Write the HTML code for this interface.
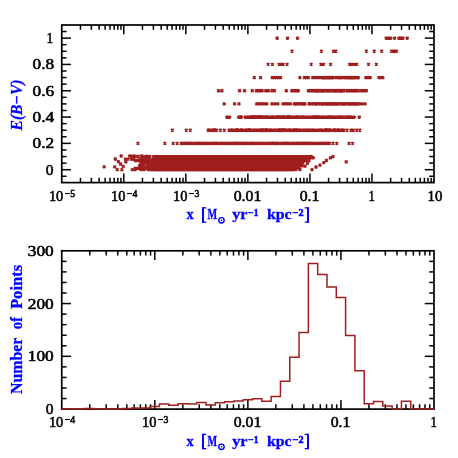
<!DOCTYPE html>
<html><head><meta charset="utf-8"><title>chart</title>
<style>html,body{margin:0;padding:0;background:#fff;}svg{display:block;will-change:transform}</style>
</head><body>
<svg width="458" height="458" viewBox="0 0 458 458">
<rect width="458" height="458" fill="#fff"/>
<rect x="61.75" y="25.0" width="372.25" height="157.6" fill="none" stroke="#000" stroke-width="1.7"/>
<rect x="61.75" y="250.8" width="372.25" height="158.3" fill="none" stroke="#000" stroke-width="1.7"/>
<line x1="80.43" y1="182.60" x2="80.43" y2="177.80" stroke="#000" stroke-width="1.5"/>
<line x1="80.43" y1="25.00" x2="80.43" y2="29.80" stroke="#000" stroke-width="1.5"/>
<line x1="91.35" y1="182.60" x2="91.35" y2="177.80" stroke="#000" stroke-width="1.5"/>
<line x1="91.35" y1="25.00" x2="91.35" y2="29.80" stroke="#000" stroke-width="1.5"/>
<line x1="99.10" y1="182.60" x2="99.10" y2="177.80" stroke="#000" stroke-width="1.5"/>
<line x1="99.10" y1="25.00" x2="99.10" y2="29.80" stroke="#000" stroke-width="1.5"/>
<line x1="105.12" y1="182.60" x2="105.12" y2="177.80" stroke="#000" stroke-width="1.5"/>
<line x1="105.12" y1="25.00" x2="105.12" y2="29.80" stroke="#000" stroke-width="1.5"/>
<line x1="110.03" y1="182.60" x2="110.03" y2="177.80" stroke="#000" stroke-width="1.5"/>
<line x1="110.03" y1="25.00" x2="110.03" y2="29.80" stroke="#000" stroke-width="1.5"/>
<line x1="114.18" y1="182.60" x2="114.18" y2="177.80" stroke="#000" stroke-width="1.5"/>
<line x1="114.18" y1="25.00" x2="114.18" y2="29.80" stroke="#000" stroke-width="1.5"/>
<line x1="117.78" y1="182.60" x2="117.78" y2="177.80" stroke="#000" stroke-width="1.5"/>
<line x1="117.78" y1="25.00" x2="117.78" y2="29.80" stroke="#000" stroke-width="1.5"/>
<line x1="120.95" y1="182.60" x2="120.95" y2="177.80" stroke="#000" stroke-width="1.5"/>
<line x1="120.95" y1="25.00" x2="120.95" y2="29.80" stroke="#000" stroke-width="1.5"/>
<line x1="123.79" y1="182.60" x2="123.79" y2="173.40" stroke="#000" stroke-width="1.5"/>
<line x1="123.79" y1="25.00" x2="123.79" y2="34.20" stroke="#000" stroke-width="1.5"/>
<line x1="142.47" y1="182.60" x2="142.47" y2="177.80" stroke="#000" stroke-width="1.5"/>
<line x1="142.47" y1="25.00" x2="142.47" y2="29.80" stroke="#000" stroke-width="1.5"/>
<line x1="153.39" y1="182.60" x2="153.39" y2="177.80" stroke="#000" stroke-width="1.5"/>
<line x1="153.39" y1="25.00" x2="153.39" y2="29.80" stroke="#000" stroke-width="1.5"/>
<line x1="161.14" y1="182.60" x2="161.14" y2="177.80" stroke="#000" stroke-width="1.5"/>
<line x1="161.14" y1="25.00" x2="161.14" y2="29.80" stroke="#000" stroke-width="1.5"/>
<line x1="167.16" y1="182.60" x2="167.16" y2="177.80" stroke="#000" stroke-width="1.5"/>
<line x1="167.16" y1="25.00" x2="167.16" y2="29.80" stroke="#000" stroke-width="1.5"/>
<line x1="172.07" y1="182.60" x2="172.07" y2="177.80" stroke="#000" stroke-width="1.5"/>
<line x1="172.07" y1="25.00" x2="172.07" y2="29.80" stroke="#000" stroke-width="1.5"/>
<line x1="176.22" y1="182.60" x2="176.22" y2="177.80" stroke="#000" stroke-width="1.5"/>
<line x1="176.22" y1="25.00" x2="176.22" y2="29.80" stroke="#000" stroke-width="1.5"/>
<line x1="179.82" y1="182.60" x2="179.82" y2="177.80" stroke="#000" stroke-width="1.5"/>
<line x1="179.82" y1="25.00" x2="179.82" y2="29.80" stroke="#000" stroke-width="1.5"/>
<line x1="182.99" y1="182.60" x2="182.99" y2="177.80" stroke="#000" stroke-width="1.5"/>
<line x1="182.99" y1="25.00" x2="182.99" y2="29.80" stroke="#000" stroke-width="1.5"/>
<line x1="185.83" y1="182.60" x2="185.83" y2="173.40" stroke="#000" stroke-width="1.5"/>
<line x1="185.83" y1="25.00" x2="185.83" y2="34.20" stroke="#000" stroke-width="1.5"/>
<line x1="204.51" y1="182.60" x2="204.51" y2="177.80" stroke="#000" stroke-width="1.5"/>
<line x1="204.51" y1="25.00" x2="204.51" y2="29.80" stroke="#000" stroke-width="1.5"/>
<line x1="215.43" y1="182.60" x2="215.43" y2="177.80" stroke="#000" stroke-width="1.5"/>
<line x1="215.43" y1="25.00" x2="215.43" y2="29.80" stroke="#000" stroke-width="1.5"/>
<line x1="223.19" y1="182.60" x2="223.19" y2="177.80" stroke="#000" stroke-width="1.5"/>
<line x1="223.19" y1="25.00" x2="223.19" y2="29.80" stroke="#000" stroke-width="1.5"/>
<line x1="229.20" y1="182.60" x2="229.20" y2="177.80" stroke="#000" stroke-width="1.5"/>
<line x1="229.20" y1="25.00" x2="229.20" y2="29.80" stroke="#000" stroke-width="1.5"/>
<line x1="234.11" y1="182.60" x2="234.11" y2="177.80" stroke="#000" stroke-width="1.5"/>
<line x1="234.11" y1="25.00" x2="234.11" y2="29.80" stroke="#000" stroke-width="1.5"/>
<line x1="238.26" y1="182.60" x2="238.26" y2="177.80" stroke="#000" stroke-width="1.5"/>
<line x1="238.26" y1="25.00" x2="238.26" y2="29.80" stroke="#000" stroke-width="1.5"/>
<line x1="241.86" y1="182.60" x2="241.86" y2="177.80" stroke="#000" stroke-width="1.5"/>
<line x1="241.86" y1="25.00" x2="241.86" y2="29.80" stroke="#000" stroke-width="1.5"/>
<line x1="245.04" y1="182.60" x2="245.04" y2="177.80" stroke="#000" stroke-width="1.5"/>
<line x1="245.04" y1="25.00" x2="245.04" y2="29.80" stroke="#000" stroke-width="1.5"/>
<line x1="247.88" y1="182.60" x2="247.88" y2="173.40" stroke="#000" stroke-width="1.5"/>
<line x1="247.88" y1="25.00" x2="247.88" y2="34.20" stroke="#000" stroke-width="1.5"/>
<line x1="266.55" y1="182.60" x2="266.55" y2="177.80" stroke="#000" stroke-width="1.5"/>
<line x1="266.55" y1="25.00" x2="266.55" y2="29.80" stroke="#000" stroke-width="1.5"/>
<line x1="277.48" y1="182.60" x2="277.48" y2="177.80" stroke="#000" stroke-width="1.5"/>
<line x1="277.48" y1="25.00" x2="277.48" y2="29.80" stroke="#000" stroke-width="1.5"/>
<line x1="285.23" y1="182.60" x2="285.23" y2="177.80" stroke="#000" stroke-width="1.5"/>
<line x1="285.23" y1="25.00" x2="285.23" y2="29.80" stroke="#000" stroke-width="1.5"/>
<line x1="291.24" y1="182.60" x2="291.24" y2="177.80" stroke="#000" stroke-width="1.5"/>
<line x1="291.24" y1="25.00" x2="291.24" y2="29.80" stroke="#000" stroke-width="1.5"/>
<line x1="296.15" y1="182.60" x2="296.15" y2="177.80" stroke="#000" stroke-width="1.5"/>
<line x1="296.15" y1="25.00" x2="296.15" y2="29.80" stroke="#000" stroke-width="1.5"/>
<line x1="300.31" y1="182.60" x2="300.31" y2="177.80" stroke="#000" stroke-width="1.5"/>
<line x1="300.31" y1="25.00" x2="300.31" y2="29.80" stroke="#000" stroke-width="1.5"/>
<line x1="303.90" y1="182.60" x2="303.90" y2="177.80" stroke="#000" stroke-width="1.5"/>
<line x1="303.90" y1="25.00" x2="303.90" y2="29.80" stroke="#000" stroke-width="1.5"/>
<line x1="307.08" y1="182.60" x2="307.08" y2="177.80" stroke="#000" stroke-width="1.5"/>
<line x1="307.08" y1="25.00" x2="307.08" y2="29.80" stroke="#000" stroke-width="1.5"/>
<line x1="309.92" y1="182.60" x2="309.92" y2="173.40" stroke="#000" stroke-width="1.5"/>
<line x1="309.92" y1="25.00" x2="309.92" y2="34.20" stroke="#000" stroke-width="1.5"/>
<line x1="328.59" y1="182.60" x2="328.59" y2="177.80" stroke="#000" stroke-width="1.5"/>
<line x1="328.59" y1="25.00" x2="328.59" y2="29.80" stroke="#000" stroke-width="1.5"/>
<line x1="339.52" y1="182.60" x2="339.52" y2="177.80" stroke="#000" stroke-width="1.5"/>
<line x1="339.52" y1="25.00" x2="339.52" y2="29.80" stroke="#000" stroke-width="1.5"/>
<line x1="347.27" y1="182.60" x2="347.27" y2="177.80" stroke="#000" stroke-width="1.5"/>
<line x1="347.27" y1="25.00" x2="347.27" y2="29.80" stroke="#000" stroke-width="1.5"/>
<line x1="353.28" y1="182.60" x2="353.28" y2="177.80" stroke="#000" stroke-width="1.5"/>
<line x1="353.28" y1="25.00" x2="353.28" y2="29.80" stroke="#000" stroke-width="1.5"/>
<line x1="358.19" y1="182.60" x2="358.19" y2="177.80" stroke="#000" stroke-width="1.5"/>
<line x1="358.19" y1="25.00" x2="358.19" y2="29.80" stroke="#000" stroke-width="1.5"/>
<line x1="362.35" y1="182.60" x2="362.35" y2="177.80" stroke="#000" stroke-width="1.5"/>
<line x1="362.35" y1="25.00" x2="362.35" y2="29.80" stroke="#000" stroke-width="1.5"/>
<line x1="365.95" y1="182.60" x2="365.95" y2="177.80" stroke="#000" stroke-width="1.5"/>
<line x1="365.95" y1="25.00" x2="365.95" y2="29.80" stroke="#000" stroke-width="1.5"/>
<line x1="369.12" y1="182.60" x2="369.12" y2="177.80" stroke="#000" stroke-width="1.5"/>
<line x1="369.12" y1="25.00" x2="369.12" y2="29.80" stroke="#000" stroke-width="1.5"/>
<line x1="371.96" y1="182.60" x2="371.96" y2="173.40" stroke="#000" stroke-width="1.5"/>
<line x1="371.96" y1="25.00" x2="371.96" y2="34.20" stroke="#000" stroke-width="1.5"/>
<line x1="390.63" y1="182.60" x2="390.63" y2="177.80" stroke="#000" stroke-width="1.5"/>
<line x1="390.63" y1="25.00" x2="390.63" y2="29.80" stroke="#000" stroke-width="1.5"/>
<line x1="401.56" y1="182.60" x2="401.56" y2="177.80" stroke="#000" stroke-width="1.5"/>
<line x1="401.56" y1="25.00" x2="401.56" y2="29.80" stroke="#000" stroke-width="1.5"/>
<line x1="409.31" y1="182.60" x2="409.31" y2="177.80" stroke="#000" stroke-width="1.5"/>
<line x1="409.31" y1="25.00" x2="409.31" y2="29.80" stroke="#000" stroke-width="1.5"/>
<line x1="415.32" y1="182.60" x2="415.32" y2="177.80" stroke="#000" stroke-width="1.5"/>
<line x1="415.32" y1="25.00" x2="415.32" y2="29.80" stroke="#000" stroke-width="1.5"/>
<line x1="420.24" y1="182.60" x2="420.24" y2="177.80" stroke="#000" stroke-width="1.5"/>
<line x1="420.24" y1="25.00" x2="420.24" y2="29.80" stroke="#000" stroke-width="1.5"/>
<line x1="424.39" y1="182.60" x2="424.39" y2="177.80" stroke="#000" stroke-width="1.5"/>
<line x1="424.39" y1="25.00" x2="424.39" y2="29.80" stroke="#000" stroke-width="1.5"/>
<line x1="427.99" y1="182.60" x2="427.99" y2="177.80" stroke="#000" stroke-width="1.5"/>
<line x1="427.99" y1="25.00" x2="427.99" y2="29.80" stroke="#000" stroke-width="1.5"/>
<line x1="431.16" y1="182.60" x2="431.16" y2="177.80" stroke="#000" stroke-width="1.5"/>
<line x1="431.16" y1="25.00" x2="431.16" y2="29.80" stroke="#000" stroke-width="1.5"/>
<line x1="61.75" y1="176.28" x2="66.55" y2="176.28" stroke="#000" stroke-width="1.5"/>
<line x1="434.00" y1="176.28" x2="429.20" y2="176.28" stroke="#000" stroke-width="1.5"/>
<line x1="61.75" y1="169.70" x2="70.95" y2="169.70" stroke="#000" stroke-width="1.5"/>
<line x1="434.00" y1="169.70" x2="424.80" y2="169.70" stroke="#000" stroke-width="1.5"/>
<line x1="61.75" y1="163.12" x2="66.55" y2="163.12" stroke="#000" stroke-width="1.5"/>
<line x1="434.00" y1="163.12" x2="429.20" y2="163.12" stroke="#000" stroke-width="1.5"/>
<line x1="61.75" y1="156.54" x2="66.55" y2="156.54" stroke="#000" stroke-width="1.5"/>
<line x1="434.00" y1="156.54" x2="429.20" y2="156.54" stroke="#000" stroke-width="1.5"/>
<line x1="61.75" y1="149.96" x2="66.55" y2="149.96" stroke="#000" stroke-width="1.5"/>
<line x1="434.00" y1="149.96" x2="429.20" y2="149.96" stroke="#000" stroke-width="1.5"/>
<line x1="61.75" y1="143.38" x2="70.95" y2="143.38" stroke="#000" stroke-width="1.5"/>
<line x1="434.00" y1="143.38" x2="424.80" y2="143.38" stroke="#000" stroke-width="1.5"/>
<line x1="61.75" y1="136.80" x2="66.55" y2="136.80" stroke="#000" stroke-width="1.5"/>
<line x1="434.00" y1="136.80" x2="429.20" y2="136.80" stroke="#000" stroke-width="1.5"/>
<line x1="61.75" y1="130.22" x2="66.55" y2="130.22" stroke="#000" stroke-width="1.5"/>
<line x1="434.00" y1="130.22" x2="429.20" y2="130.22" stroke="#000" stroke-width="1.5"/>
<line x1="61.75" y1="123.64" x2="66.55" y2="123.64" stroke="#000" stroke-width="1.5"/>
<line x1="434.00" y1="123.64" x2="429.20" y2="123.64" stroke="#000" stroke-width="1.5"/>
<line x1="61.75" y1="117.06" x2="70.95" y2="117.06" stroke="#000" stroke-width="1.5"/>
<line x1="434.00" y1="117.06" x2="424.80" y2="117.06" stroke="#000" stroke-width="1.5"/>
<line x1="61.75" y1="110.48" x2="66.55" y2="110.48" stroke="#000" stroke-width="1.5"/>
<line x1="434.00" y1="110.48" x2="429.20" y2="110.48" stroke="#000" stroke-width="1.5"/>
<line x1="61.75" y1="103.90" x2="66.55" y2="103.90" stroke="#000" stroke-width="1.5"/>
<line x1="434.00" y1="103.90" x2="429.20" y2="103.90" stroke="#000" stroke-width="1.5"/>
<line x1="61.75" y1="97.32" x2="66.55" y2="97.32" stroke="#000" stroke-width="1.5"/>
<line x1="434.00" y1="97.32" x2="429.20" y2="97.32" stroke="#000" stroke-width="1.5"/>
<line x1="61.75" y1="90.74" x2="70.95" y2="90.74" stroke="#000" stroke-width="1.5"/>
<line x1="434.00" y1="90.74" x2="424.80" y2="90.74" stroke="#000" stroke-width="1.5"/>
<line x1="61.75" y1="84.16" x2="66.55" y2="84.16" stroke="#000" stroke-width="1.5"/>
<line x1="434.00" y1="84.16" x2="429.20" y2="84.16" stroke="#000" stroke-width="1.5"/>
<line x1="61.75" y1="77.58" x2="66.55" y2="77.58" stroke="#000" stroke-width="1.5"/>
<line x1="434.00" y1="77.58" x2="429.20" y2="77.58" stroke="#000" stroke-width="1.5"/>
<line x1="61.75" y1="71.00" x2="66.55" y2="71.00" stroke="#000" stroke-width="1.5"/>
<line x1="434.00" y1="71.00" x2="429.20" y2="71.00" stroke="#000" stroke-width="1.5"/>
<line x1="61.75" y1="64.42" x2="70.95" y2="64.42" stroke="#000" stroke-width="1.5"/>
<line x1="434.00" y1="64.42" x2="424.80" y2="64.42" stroke="#000" stroke-width="1.5"/>
<line x1="61.75" y1="57.84" x2="66.55" y2="57.84" stroke="#000" stroke-width="1.5"/>
<line x1="434.00" y1="57.84" x2="429.20" y2="57.84" stroke="#000" stroke-width="1.5"/>
<line x1="61.75" y1="51.26" x2="66.55" y2="51.26" stroke="#000" stroke-width="1.5"/>
<line x1="434.00" y1="51.26" x2="429.20" y2="51.26" stroke="#000" stroke-width="1.5"/>
<line x1="61.75" y1="44.68" x2="66.55" y2="44.68" stroke="#000" stroke-width="1.5"/>
<line x1="434.00" y1="44.68" x2="429.20" y2="44.68" stroke="#000" stroke-width="1.5"/>
<line x1="61.75" y1="38.10" x2="70.95" y2="38.10" stroke="#000" stroke-width="1.5"/>
<line x1="434.00" y1="38.10" x2="424.80" y2="38.10" stroke="#000" stroke-width="1.5"/>
<line x1="61.75" y1="31.52" x2="66.55" y2="31.52" stroke="#000" stroke-width="1.5"/>
<line x1="434.00" y1="31.52" x2="429.20" y2="31.52" stroke="#000" stroke-width="1.5"/>
<line x1="89.76" y1="409.10" x2="89.76" y2="404.30" stroke="#000" stroke-width="1.5"/>
<line x1="89.76" y1="250.80" x2="89.76" y2="255.60" stroke="#000" stroke-width="1.5"/>
<line x1="106.15" y1="409.10" x2="106.15" y2="404.30" stroke="#000" stroke-width="1.5"/>
<line x1="106.15" y1="250.80" x2="106.15" y2="255.60" stroke="#000" stroke-width="1.5"/>
<line x1="117.78" y1="409.10" x2="117.78" y2="404.30" stroke="#000" stroke-width="1.5"/>
<line x1="117.78" y1="250.80" x2="117.78" y2="255.60" stroke="#000" stroke-width="1.5"/>
<line x1="126.80" y1="409.10" x2="126.80" y2="404.30" stroke="#000" stroke-width="1.5"/>
<line x1="126.80" y1="250.80" x2="126.80" y2="255.60" stroke="#000" stroke-width="1.5"/>
<line x1="134.17" y1="409.10" x2="134.17" y2="404.30" stroke="#000" stroke-width="1.5"/>
<line x1="134.17" y1="250.80" x2="134.17" y2="255.60" stroke="#000" stroke-width="1.5"/>
<line x1="140.40" y1="409.10" x2="140.40" y2="404.30" stroke="#000" stroke-width="1.5"/>
<line x1="140.40" y1="250.80" x2="140.40" y2="255.60" stroke="#000" stroke-width="1.5"/>
<line x1="145.79" y1="409.10" x2="145.79" y2="404.30" stroke="#000" stroke-width="1.5"/>
<line x1="145.79" y1="250.80" x2="145.79" y2="255.60" stroke="#000" stroke-width="1.5"/>
<line x1="150.55" y1="409.10" x2="150.55" y2="404.30" stroke="#000" stroke-width="1.5"/>
<line x1="150.55" y1="250.80" x2="150.55" y2="255.60" stroke="#000" stroke-width="1.5"/>
<line x1="154.81" y1="409.10" x2="154.81" y2="399.90" stroke="#000" stroke-width="1.5"/>
<line x1="154.81" y1="250.80" x2="154.81" y2="260.00" stroke="#000" stroke-width="1.5"/>
<line x1="182.83" y1="409.10" x2="182.83" y2="404.30" stroke="#000" stroke-width="1.5"/>
<line x1="182.83" y1="250.80" x2="182.83" y2="255.60" stroke="#000" stroke-width="1.5"/>
<line x1="199.21" y1="409.10" x2="199.21" y2="404.30" stroke="#000" stroke-width="1.5"/>
<line x1="199.21" y1="250.80" x2="199.21" y2="255.60" stroke="#000" stroke-width="1.5"/>
<line x1="210.84" y1="409.10" x2="210.84" y2="404.30" stroke="#000" stroke-width="1.5"/>
<line x1="210.84" y1="250.80" x2="210.84" y2="255.60" stroke="#000" stroke-width="1.5"/>
<line x1="219.86" y1="409.10" x2="219.86" y2="404.30" stroke="#000" stroke-width="1.5"/>
<line x1="219.86" y1="250.80" x2="219.86" y2="255.60" stroke="#000" stroke-width="1.5"/>
<line x1="227.23" y1="409.10" x2="227.23" y2="404.30" stroke="#000" stroke-width="1.5"/>
<line x1="227.23" y1="250.80" x2="227.23" y2="255.60" stroke="#000" stroke-width="1.5"/>
<line x1="233.46" y1="409.10" x2="233.46" y2="404.30" stroke="#000" stroke-width="1.5"/>
<line x1="233.46" y1="250.80" x2="233.46" y2="255.60" stroke="#000" stroke-width="1.5"/>
<line x1="238.86" y1="409.10" x2="238.86" y2="404.30" stroke="#000" stroke-width="1.5"/>
<line x1="238.86" y1="250.80" x2="238.86" y2="255.60" stroke="#000" stroke-width="1.5"/>
<line x1="243.62" y1="409.10" x2="243.62" y2="404.30" stroke="#000" stroke-width="1.5"/>
<line x1="243.62" y1="250.80" x2="243.62" y2="255.60" stroke="#000" stroke-width="1.5"/>
<line x1="247.88" y1="409.10" x2="247.88" y2="399.90" stroke="#000" stroke-width="1.5"/>
<line x1="247.88" y1="250.80" x2="247.88" y2="260.00" stroke="#000" stroke-width="1.5"/>
<line x1="275.89" y1="409.10" x2="275.89" y2="404.30" stroke="#000" stroke-width="1.5"/>
<line x1="275.89" y1="250.80" x2="275.89" y2="255.60" stroke="#000" stroke-width="1.5"/>
<line x1="292.28" y1="409.10" x2="292.28" y2="404.30" stroke="#000" stroke-width="1.5"/>
<line x1="292.28" y1="250.80" x2="292.28" y2="255.60" stroke="#000" stroke-width="1.5"/>
<line x1="303.90" y1="409.10" x2="303.90" y2="404.30" stroke="#000" stroke-width="1.5"/>
<line x1="303.90" y1="250.80" x2="303.90" y2="255.60" stroke="#000" stroke-width="1.5"/>
<line x1="312.92" y1="409.10" x2="312.92" y2="404.30" stroke="#000" stroke-width="1.5"/>
<line x1="312.92" y1="250.80" x2="312.92" y2="255.60" stroke="#000" stroke-width="1.5"/>
<line x1="320.29" y1="409.10" x2="320.29" y2="404.30" stroke="#000" stroke-width="1.5"/>
<line x1="320.29" y1="250.80" x2="320.29" y2="255.60" stroke="#000" stroke-width="1.5"/>
<line x1="326.52" y1="409.10" x2="326.52" y2="404.30" stroke="#000" stroke-width="1.5"/>
<line x1="326.52" y1="250.80" x2="326.52" y2="255.60" stroke="#000" stroke-width="1.5"/>
<line x1="331.92" y1="409.10" x2="331.92" y2="404.30" stroke="#000" stroke-width="1.5"/>
<line x1="331.92" y1="250.80" x2="331.92" y2="255.60" stroke="#000" stroke-width="1.5"/>
<line x1="336.68" y1="409.10" x2="336.68" y2="404.30" stroke="#000" stroke-width="1.5"/>
<line x1="336.68" y1="250.80" x2="336.68" y2="255.60" stroke="#000" stroke-width="1.5"/>
<line x1="340.94" y1="409.10" x2="340.94" y2="399.90" stroke="#000" stroke-width="1.5"/>
<line x1="340.94" y1="250.80" x2="340.94" y2="260.00" stroke="#000" stroke-width="1.5"/>
<line x1="368.95" y1="409.10" x2="368.95" y2="404.30" stroke="#000" stroke-width="1.5"/>
<line x1="368.95" y1="250.80" x2="368.95" y2="255.60" stroke="#000" stroke-width="1.5"/>
<line x1="385.34" y1="409.10" x2="385.34" y2="404.30" stroke="#000" stroke-width="1.5"/>
<line x1="385.34" y1="250.80" x2="385.34" y2="255.60" stroke="#000" stroke-width="1.5"/>
<line x1="396.97" y1="409.10" x2="396.97" y2="404.30" stroke="#000" stroke-width="1.5"/>
<line x1="396.97" y1="250.80" x2="396.97" y2="255.60" stroke="#000" stroke-width="1.5"/>
<line x1="405.99" y1="409.10" x2="405.99" y2="404.30" stroke="#000" stroke-width="1.5"/>
<line x1="405.99" y1="250.80" x2="405.99" y2="255.60" stroke="#000" stroke-width="1.5"/>
<line x1="413.35" y1="409.10" x2="413.35" y2="404.30" stroke="#000" stroke-width="1.5"/>
<line x1="413.35" y1="250.80" x2="413.35" y2="255.60" stroke="#000" stroke-width="1.5"/>
<line x1="419.58" y1="409.10" x2="419.58" y2="404.30" stroke="#000" stroke-width="1.5"/>
<line x1="419.58" y1="250.80" x2="419.58" y2="255.60" stroke="#000" stroke-width="1.5"/>
<line x1="424.98" y1="409.10" x2="424.98" y2="404.30" stroke="#000" stroke-width="1.5"/>
<line x1="424.98" y1="250.80" x2="424.98" y2="255.60" stroke="#000" stroke-width="1.5"/>
<line x1="429.74" y1="409.10" x2="429.74" y2="404.30" stroke="#000" stroke-width="1.5"/>
<line x1="429.74" y1="250.80" x2="429.74" y2="255.60" stroke="#000" stroke-width="1.5"/>
<line x1="61.75" y1="398.55" x2="66.55" y2="398.55" stroke="#000" stroke-width="1.5"/>
<line x1="434.00" y1="398.55" x2="429.20" y2="398.55" stroke="#000" stroke-width="1.5"/>
<line x1="61.75" y1="387.99" x2="66.55" y2="387.99" stroke="#000" stroke-width="1.5"/>
<line x1="434.00" y1="387.99" x2="429.20" y2="387.99" stroke="#000" stroke-width="1.5"/>
<line x1="61.75" y1="377.44" x2="66.55" y2="377.44" stroke="#000" stroke-width="1.5"/>
<line x1="434.00" y1="377.44" x2="429.20" y2="377.44" stroke="#000" stroke-width="1.5"/>
<line x1="61.75" y1="366.89" x2="66.55" y2="366.89" stroke="#000" stroke-width="1.5"/>
<line x1="434.00" y1="366.89" x2="429.20" y2="366.89" stroke="#000" stroke-width="1.5"/>
<line x1="61.75" y1="356.33" x2="70.95" y2="356.33" stroke="#000" stroke-width="1.5"/>
<line x1="434.00" y1="356.33" x2="424.80" y2="356.33" stroke="#000" stroke-width="1.5"/>
<line x1="61.75" y1="345.78" x2="66.55" y2="345.78" stroke="#000" stroke-width="1.5"/>
<line x1="434.00" y1="345.78" x2="429.20" y2="345.78" stroke="#000" stroke-width="1.5"/>
<line x1="61.75" y1="335.23" x2="66.55" y2="335.23" stroke="#000" stroke-width="1.5"/>
<line x1="434.00" y1="335.23" x2="429.20" y2="335.23" stroke="#000" stroke-width="1.5"/>
<line x1="61.75" y1="324.67" x2="66.55" y2="324.67" stroke="#000" stroke-width="1.5"/>
<line x1="434.00" y1="324.67" x2="429.20" y2="324.67" stroke="#000" stroke-width="1.5"/>
<line x1="61.75" y1="314.12" x2="66.55" y2="314.12" stroke="#000" stroke-width="1.5"/>
<line x1="434.00" y1="314.12" x2="429.20" y2="314.12" stroke="#000" stroke-width="1.5"/>
<line x1="61.75" y1="303.57" x2="70.95" y2="303.57" stroke="#000" stroke-width="1.5"/>
<line x1="434.00" y1="303.57" x2="424.80" y2="303.57" stroke="#000" stroke-width="1.5"/>
<line x1="61.75" y1="293.01" x2="66.55" y2="293.01" stroke="#000" stroke-width="1.5"/>
<line x1="434.00" y1="293.01" x2="429.20" y2="293.01" stroke="#000" stroke-width="1.5"/>
<line x1="61.75" y1="282.46" x2="66.55" y2="282.46" stroke="#000" stroke-width="1.5"/>
<line x1="434.00" y1="282.46" x2="429.20" y2="282.46" stroke="#000" stroke-width="1.5"/>
<line x1="61.75" y1="271.91" x2="66.55" y2="271.91" stroke="#000" stroke-width="1.5"/>
<line x1="434.00" y1="271.91" x2="429.20" y2="271.91" stroke="#000" stroke-width="1.5"/>
<line x1="61.75" y1="261.35" x2="66.55" y2="261.35" stroke="#000" stroke-width="1.5"/>
<line x1="434.00" y1="261.35" x2="429.20" y2="261.35" stroke="#000" stroke-width="1.5"/>
<rect x="321.70" y="76.38" width="12.40" height="2.4" fill="#a01e1e"/>
<rect x="335.40" y="76.38" width="23.80" height="2.4" fill="#a01e1e"/>
<rect x="313.50" y="89.54" width="31.10" height="2.4" fill="#a01e1e"/>
<rect x="349.80" y="89.54" width="8.40" height="2.4" fill="#a01e1e"/>
<rect x="308.10" y="102.70" width="49.50" height="2.4" fill="#a01e1e"/>
<rect x="293.40" y="102.70" width="12.40" height="2.4" fill="#a01e1e"/>
<rect x="244.30" y="115.86" width="25.20" height="2.4" fill="#a01e1e"/>
<rect x="270.70" y="115.86" width="81.60" height="2.4" fill="#a01e1e"/>
<rect x="228.10" y="129.02" width="116.60" height="2.4" fill="#a01e1e"/>
<rect x="207.20" y="129.02" width="10.20" height="2.4" fill="#a01e1e"/>
<rect x="180.20" y="142.18" width="150.20" height="2.4" fill="#a01e1e"/>
<polygon points="153,154.94 309,154.94 292,171.30 153,171.30" fill="#a01e1e"/>
<rect x="150.22" y="168.20" width="142.69" height="3.0" fill="#a01e1e"/>
<rect x="147.83" y="166.88" width="148.00" height="3.0" fill="#a01e1e"/>
<rect x="148.67" y="165.57" width="147.81" height="3.0" fill="#a01e1e"/>
<rect x="151.68" y="164.25" width="147.18" height="3.0" fill="#a01e1e"/>
<rect x="150.67" y="162.94" width="148.98" height="3.0" fill="#a01e1e"/>
<rect x="151.21" y="161.62" width="151.31" height="3.0" fill="#a01e1e"/>
<rect x="151.29" y="160.30" width="151.60" height="3.0" fill="#a01e1e"/>
<rect x="147.66" y="158.99" width="157.70" height="3.0" fill="#a01e1e"/>
<rect x="151.09" y="157.67" width="156.52" height="3.0" fill="#a01e1e"/>
<rect x="152.11" y="156.36" width="157.99" height="3.0" fill="#a01e1e"/>
<rect x="152.18" y="155.04" width="158.86" height="3.0" fill="#a01e1e"/>
<path d="M275.80 36.80L278.40 39.40M275.80 39.40L278.40 36.80M286.20 36.80L288.80 39.40M286.20 39.40L288.80 36.80M296.20 36.80L298.80 39.40M296.20 39.40L298.80 36.80M384.90 36.80L387.50 39.40M384.90 39.40L387.50 36.80M387.10 36.80L389.70 39.40M387.10 39.40L389.70 36.80M389.30 36.80L391.90 39.40M389.30 39.40L391.90 36.80M393.20 36.80L395.80 39.40M393.20 39.40L395.80 36.80M397.60 36.80L400.20 39.40M397.60 39.40L400.20 36.80M399.60 36.80L402.20 39.40M399.60 39.40L402.20 36.80M401.60 36.80L404.20 39.40M401.60 39.40L404.20 36.80M405.90 36.80L408.50 39.40M405.90 39.40L408.50 36.80M290.70 49.96L293.30 52.56M290.70 52.56L293.30 49.96M320.10 49.96L322.70 52.56M320.10 52.56L322.70 49.96M332.10 49.96L334.70 52.56M332.10 52.56L334.70 49.96M334.50 49.96L337.10 52.56M334.50 52.56L337.10 49.96M365.10 49.96L367.70 52.56M365.10 52.56L367.70 49.96M372.90 49.96L375.50 52.56M372.90 52.56L375.50 49.96M380.30 49.96L382.90 52.56M380.30 52.56L382.90 49.96M390.20 49.96L392.80 52.56M390.20 52.56L392.80 49.96M392.80 49.96L395.40 52.56M392.80 52.56L395.40 49.96M395.20 49.96L397.80 52.56M395.20 52.56L397.80 49.96M266.80 63.12L269.40 65.72M266.80 65.72L269.40 63.12M271.10 63.12L273.70 65.72M271.10 65.72L273.70 63.12M277.80 63.12L280.40 65.72M277.80 65.72L280.40 63.12M279.90 63.12L282.50 65.72M279.90 65.72L282.50 63.12M281.90 63.12L284.50 65.72M281.90 65.72L284.50 63.12M285.80 63.12L288.40 65.72M285.80 65.72L288.40 63.12M309.90 63.12L312.50 65.72M309.90 65.72L312.50 63.12M319.60 63.12L322.20 65.72M319.60 65.72L322.20 63.12M322.20 63.12L324.80 65.72M322.20 65.72L324.80 63.12M329.30 63.12L331.90 65.72M329.30 65.72L331.90 63.12M348.30 63.12L350.90 65.72M348.30 65.72L350.90 63.12M350.40 63.12L353.00 65.72M350.40 65.72L353.00 63.12M353.30 63.12L355.90 65.72M353.30 65.72L355.90 63.12M355.40 63.12L358.00 65.72M355.40 65.72L358.00 63.12M367.20 63.12L369.80 65.72M367.20 65.72L369.80 63.12M375.00 63.12L377.60 65.72M375.00 65.72L377.60 63.12M321.30 76.28L323.90 78.88M321.30 78.88L323.90 76.28M322.29 76.28L324.89 78.88M322.29 78.88L324.89 76.28M323.13 76.28L325.73 78.88M323.13 78.88L325.73 76.28M324.41 76.28L327.01 78.88M324.41 78.88L327.01 76.28M325.18 76.28L327.78 78.88M325.18 78.88L327.78 76.28M326.36 76.28L328.96 78.88M326.36 78.88L328.96 76.28M327.39 76.28L329.99 78.88M327.39 78.88L329.99 76.28M328.14 76.28L330.74 78.88M328.14 78.88L330.74 76.28M329.30 76.28L331.90 78.88M329.30 78.88L331.90 76.28M330.03 76.28L332.63 78.88M330.03 78.88L332.63 76.28M331.12 76.28L333.72 78.88M331.12 78.88L333.72 76.28M331.89 76.28L334.49 78.88M331.89 78.88L334.49 76.28M331.90 76.28L334.50 78.88M331.90 78.88L334.50 76.28M335.00 76.28L337.60 78.88M335.00 78.88L337.60 76.28M336.08 76.28L338.68 78.88M336.08 78.88L338.68 76.28M337.53 76.28L340.13 78.88M337.53 78.88L340.13 76.28M338.34 76.28L340.94 78.88M338.34 78.88L340.94 76.28M339.24 76.28L341.84 78.88M339.24 78.88L341.84 76.28M340.50 76.28L343.10 78.88M340.50 78.88L343.10 76.28M342.06 76.28L344.66 78.88M342.06 78.88L344.66 76.28M343.28 76.28L345.88 78.88M343.28 78.88L345.88 76.28M344.33 76.28L346.93 78.88M344.33 78.88L346.93 76.28M345.91 76.28L348.51 78.88M345.91 78.88L348.51 76.28M346.65 76.28L349.25 78.88M346.65 78.88L349.25 76.28M348.13 76.28L350.73 78.88M348.13 78.88L350.73 76.28M349.09 76.28L351.69 78.88M349.09 78.88L351.69 76.28M349.92 76.28L352.52 78.88M349.92 78.88L352.52 76.28M350.72 76.28L353.32 78.88M350.72 78.88L353.32 76.28M351.70 76.28L354.30 78.88M351.70 78.88L354.30 76.28M353.13 76.28L355.73 78.88M353.13 78.88L355.73 76.28M354.00 76.28L356.60 78.88M354.00 78.88L356.60 76.28M355.22 76.28L357.82 78.88M355.22 78.88L357.82 76.28M356.50 76.28L359.10 78.88M356.50 78.88L359.10 76.28M357.00 76.28L359.60 78.88M357.00 78.88L359.60 76.28M253.00 76.28L255.60 78.88M253.00 78.88L255.60 76.28M259.30 76.28L261.90 78.88M259.30 78.88L261.90 76.28M298.60 76.28L301.20 78.88M298.60 78.88L301.20 76.28M303.10 76.28L305.70 78.88M303.10 78.88L305.70 76.28M305.10 76.28L307.70 78.88M305.10 78.88L307.70 76.28M307.00 76.28L309.60 78.88M307.00 78.88L309.60 76.28M364.50 76.28L367.10 78.88M364.50 78.88L367.10 76.28M366.90 76.28L369.50 78.88M366.90 78.88L369.50 76.28M369.00 76.28L371.60 78.88M369.00 78.88L371.60 76.28M377.60 76.28L380.20 78.88M377.60 78.88L380.20 76.28M379.90 76.28L382.50 78.88M379.90 78.88L382.50 76.28M381.60 76.28L384.20 78.88M381.60 78.88L384.20 76.28M270.90 76.28L273.50 78.88M270.90 78.88L273.50 76.28M273.00 76.28L275.60 78.88M273.00 78.88L275.60 76.28M275.10 76.28L277.70 78.88M275.10 78.88L277.70 76.28M277.20 76.28L279.80 78.88M277.20 78.88L279.80 76.28M279.30 76.28L281.90 78.88M279.30 78.88L281.90 76.28M311.40 76.28L314.00 78.88M311.40 78.88L314.00 76.28M313.00 76.28L315.60 78.88M313.00 78.88L315.60 76.28M314.60 76.28L317.20 78.88M314.60 78.88L317.20 76.28M316.20 76.28L318.80 78.88M316.20 78.88L318.80 76.28M317.80 76.28L320.40 78.88M317.80 78.88L320.40 76.28M319.40 76.28L322.00 78.88M319.40 78.88L322.00 76.28M313.10 89.44L315.70 92.04M313.10 92.04L315.70 89.44M314.29 89.44L316.89 92.04M314.29 92.04L316.89 89.44M315.05 89.44L317.65 92.04M315.05 92.04L317.65 89.44M315.80 89.44L318.40 92.04M315.80 92.04L318.40 89.44M316.69 89.44L319.29 92.04M316.69 92.04L319.29 89.44M318.00 89.44L320.60 92.04M318.00 92.04L320.60 89.44M319.09 89.44L321.69 92.04M319.09 92.04L321.69 89.44M320.07 89.44L322.67 92.04M320.07 92.04L322.67 89.44M321.30 89.44L323.90 92.04M321.30 92.04L323.90 89.44M322.40 89.44L325.00 92.04M322.40 92.04L325.00 89.44M323.37 89.44L325.97 92.04M323.37 92.04L325.97 89.44M324.79 89.44L327.39 92.04M324.79 92.04L327.39 89.44M326.12 89.44L328.72 92.04M326.12 92.04L328.72 89.44M327.04 89.44L329.64 92.04M327.04 92.04L329.64 89.44M328.25 89.44L330.85 92.04M328.25 92.04L330.85 89.44M329.43 89.44L332.03 92.04M329.43 92.04L332.03 89.44M330.91 89.44L333.51 92.04M330.91 92.04L333.51 89.44M332.27 89.44L334.87 92.04M332.27 92.04L334.87 89.44M333.23 89.44L335.83 92.04M333.23 92.04L335.83 89.44M334.81 89.44L337.41 92.04M334.81 92.04L337.41 89.44M335.62 89.44L338.22 92.04M335.62 92.04L338.22 89.44M336.69 89.44L339.29 92.04M336.69 92.04L339.29 89.44M338.08 89.44L340.68 92.04M338.08 92.04L340.68 89.44M338.91 89.44L341.51 92.04M338.91 92.04L341.51 89.44M340.05 89.44L342.65 92.04M340.05 92.04L342.65 89.44M340.79 89.44L343.39 92.04M340.79 92.04L343.39 89.44M342.09 89.44L344.69 92.04M342.09 92.04L344.69 89.44M342.40 89.44L345.00 92.04M342.40 92.04L345.00 89.44M349.40 89.44L352.00 92.04M349.40 92.04L352.00 89.44M350.62 89.44L353.22 92.04M350.62 92.04L353.22 89.44M352.10 89.44L354.70 92.04M352.10 92.04L354.70 89.44M353.09 89.44L355.69 92.04M353.09 92.04L355.69 89.44M354.41 89.44L357.01 92.04M354.41 92.04L357.01 89.44M355.65 89.44L358.25 92.04M355.65 92.04L358.25 89.44M356.00 89.44L358.60 92.04M356.00 92.04L358.60 89.44M217.20 89.44L219.80 92.04M217.20 92.04L219.80 89.44M220.60 89.44L223.20 92.04M220.60 92.04L223.20 89.44M238.30 89.44L240.90 92.04M238.30 92.04L240.90 89.44M243.20 89.44L245.80 92.04M243.20 92.04L245.80 89.44M251.00 89.44L253.60 92.04M251.00 92.04L253.60 89.44M264.40 89.44L267.00 92.04M264.40 92.04L267.00 89.44M267.10 89.44L269.70 92.04M267.10 92.04L269.70 89.44M270.70 89.44L273.30 92.04M270.70 92.04L273.30 89.44M273.20 89.44L275.80 92.04M273.20 92.04L275.80 89.44M285.00 89.44L287.60 92.04M285.00 92.04L287.60 89.44M307.10 89.44L309.70 92.04M307.10 92.04L309.70 89.44M309.10 89.44L311.70 92.04M309.10 92.04L311.70 89.44M310.90 89.44L313.50 92.04M310.90 92.04L313.50 89.44M345.50 89.44L348.10 92.04M345.50 92.04L348.10 89.44M347.50 89.44L350.10 92.04M347.50 92.04L350.10 89.44M359.10 89.44L361.70 92.04M359.10 92.04L361.70 89.44M361.10 89.44L363.70 92.04M361.10 92.04L363.70 89.44M363.10 89.44L365.70 92.04M363.10 92.04L365.70 89.44M365.10 89.44L367.70 92.04M365.10 92.04L367.70 89.44M255.10 89.44L257.70 92.04M255.10 92.04L257.70 89.44M257.00 89.44L259.60 92.04M257.00 92.04L259.60 89.44M258.90 89.44L261.50 92.04M258.90 92.04L261.50 89.44M260.80 89.44L263.40 92.04M260.80 92.04L263.40 89.44M290.50 89.44L293.10 92.04M290.50 92.04L293.10 89.44M292.67 89.44L295.27 92.04M292.67 92.04L295.27 89.44M294.83 89.44L297.43 92.04M294.83 92.04L297.43 89.44M297.00 89.44L299.60 92.04M297.00 92.04L299.60 89.44M307.70 102.60L310.30 105.20M307.70 105.20L310.30 102.60M308.81 102.60L311.41 105.20M308.81 105.20L311.41 102.60M310.27 102.60L312.87 105.20M310.27 105.20L312.87 102.60M311.82 102.60L314.42 105.20M311.82 105.20L314.42 102.60M312.94 102.60L315.54 105.20M312.94 105.20L315.54 102.60M314.24 102.60L316.84 105.20M314.24 105.20L316.84 102.60M315.00 102.60L317.60 105.20M315.00 105.20L317.60 102.60M316.33 102.60L318.93 105.20M316.33 105.20L318.93 102.60M317.61 102.60L320.21 105.20M317.61 105.20L320.21 102.60M319.20 102.60L321.80 105.20M319.20 105.20L321.80 102.60M320.64 102.60L323.24 105.20M320.64 105.20L323.24 102.60M321.60 102.60L324.20 105.20M321.60 105.20L324.20 102.60M322.65 102.60L325.25 105.20M322.65 105.20L325.25 102.60M323.95 102.60L326.55 105.20M323.95 105.20L326.55 102.60M324.67 102.60L327.27 105.20M324.67 105.20L327.27 102.60M325.78 102.60L328.38 105.20M325.78 105.20L328.38 102.60M326.64 102.60L329.24 105.20M326.64 105.20L329.24 102.60M327.44 102.60L330.04 105.20M327.44 105.20L330.04 102.60M328.19 102.60L330.79 105.20M328.19 105.20L330.79 102.60M329.59 102.60L332.19 105.20M329.59 105.20L332.19 102.60M330.40 102.60L333.00 105.20M330.40 105.20L333.00 102.60M331.32 102.60L333.92 105.20M331.32 105.20L333.92 102.60M332.38 102.60L334.98 105.20M332.38 105.20L334.98 102.60M333.86 102.60L336.46 105.20M333.86 105.20L336.46 102.60M334.63 102.60L337.23 105.20M334.63 105.20L337.23 102.60M335.74 102.60L338.34 105.20M335.74 105.20L338.34 102.60M336.93 102.60L339.53 105.20M336.93 105.20L339.53 102.60M338.43 102.60L341.03 105.20M338.43 105.20L341.03 102.60M339.86 102.60L342.46 105.20M339.86 105.20L342.46 102.60M341.34 102.60L343.94 105.20M341.34 105.20L343.94 102.60M342.29 102.60L344.89 105.20M342.29 105.20L344.89 102.60M343.37 102.60L345.97 105.20M343.37 105.20L345.97 102.60M344.39 102.60L346.99 105.20M344.39 105.20L346.99 102.60M345.88 102.60L348.48 105.20M345.88 105.20L348.48 102.60M347.45 102.60L350.05 105.20M347.45 105.20L350.05 102.60M348.28 102.60L350.88 105.20M348.28 105.20L350.88 102.60M349.14 102.60L351.74 105.20M349.14 105.20L351.74 102.60M350.05 102.60L352.65 105.20M350.05 105.20L352.65 102.60M350.96 102.60L353.56 105.20M350.96 105.20L353.56 102.60M352.10 102.60L354.70 105.20M352.10 105.20L354.70 102.60M353.33 102.60L355.93 105.20M353.33 105.20L355.93 102.60M354.26 102.60L356.86 105.20M354.26 105.20L356.86 102.60M354.97 102.60L357.57 105.20M354.97 105.20L357.57 102.60M355.40 102.60L358.00 105.20M355.40 105.20L358.00 102.60M293.00 102.60L295.60 105.20M293.00 105.20L295.60 102.60M294.03 102.60L296.63 105.20M294.03 105.20L296.63 102.60M295.24 102.60L297.84 105.20M295.24 105.20L297.84 102.60M296.80 102.60L299.40 105.20M296.80 105.20L299.40 102.60M298.12 102.60L300.72 105.20M298.12 105.20L300.72 102.60M299.29 102.60L301.89 105.20M299.29 105.20L301.89 102.60M300.54 102.60L303.14 105.20M300.54 105.20L303.14 102.60M301.85 102.60L304.45 105.20M301.85 105.20L304.45 102.60M302.60 102.60L305.20 105.20M302.60 105.20L305.20 102.60M303.60 102.60L306.20 105.20M303.60 105.20L306.20 102.60M222.90 102.60L225.50 105.20M222.90 105.20L225.50 102.60M233.30 102.60L235.90 105.20M233.30 105.20L235.90 102.60M237.70 102.60L240.30 105.20M237.70 105.20L240.30 102.60M255.40 102.60L258.00 105.20M255.40 105.20L258.00 102.60M257.90 102.60L260.50 105.20M257.90 105.20L260.50 102.60M260.50 102.60L263.10 105.20M260.50 105.20L263.10 102.60M263.20 102.60L265.80 105.20M263.20 105.20L265.80 102.60M265.40 102.60L268.00 105.20M265.40 105.20L268.00 102.60M270.70 102.60L273.30 105.20M270.70 105.20L273.30 102.60M273.70 102.60L276.30 105.20M273.70 105.20L276.30 102.60M276.60 102.60L279.20 105.20M276.60 105.20L279.20 102.60M357.70 102.60L360.30 105.20M357.70 105.20L360.30 102.60M360.50 102.60L363.10 105.20M360.50 105.20L363.10 102.60M363.70 102.60L366.30 105.20M363.70 105.20L366.30 102.60M281.70 102.60L284.30 105.20M281.70 105.20L284.30 102.60M284.17 102.60L286.77 105.20M284.17 105.20L286.77 102.60M286.63 102.60L289.23 105.20M286.63 105.20L289.23 102.60M289.10 102.60L291.70 105.20M289.10 105.20L291.70 102.60M243.90 115.76L246.50 118.36M243.90 118.36L246.50 115.76M245.30 115.76L247.90 118.36M245.30 118.36L247.90 115.76M246.79 115.76L249.39 118.36M246.79 118.36L249.39 115.76M248.21 115.76L250.81 118.36M248.21 118.36L250.81 115.76M249.26 115.76L251.86 118.36M249.26 118.36L251.86 115.76M250.32 115.76L252.92 118.36M250.32 118.36L252.92 115.76M251.11 115.76L253.71 118.36M251.11 118.36L253.71 115.76M252.38 115.76L254.98 118.36M252.38 118.36L254.98 115.76M253.14 115.76L255.74 118.36M253.14 118.36L255.74 115.76M253.90 115.76L256.50 118.36M253.90 118.36L256.50 115.76M254.79 115.76L257.39 118.36M254.79 118.36L257.39 115.76M255.63 115.76L258.23 118.36M255.63 118.36L258.23 115.76M256.64 115.76L259.24 118.36M256.64 118.36L259.24 115.76M257.39 115.76L259.99 118.36M257.39 118.36L259.99 115.76M258.09 115.76L260.69 118.36M258.09 118.36L260.69 115.76M258.92 115.76L261.52 118.36M258.92 118.36L261.52 115.76M259.72 115.76L262.32 118.36M259.72 118.36L262.32 115.76M260.74 115.76L263.34 118.36M260.74 118.36L263.34 115.76M261.47 115.76L264.07 118.36M261.47 118.36L264.07 115.76M262.95 115.76L265.55 118.36M262.95 118.36L265.55 115.76M264.20 115.76L266.80 118.36M264.20 118.36L266.80 115.76M265.04 115.76L267.64 118.36M265.04 118.36L267.64 115.76M265.97 115.76L268.57 118.36M265.97 118.36L268.57 115.76M266.98 115.76L269.58 118.36M266.98 118.36L269.58 115.76M267.30 115.76L269.90 118.36M267.30 118.36L269.90 115.76M270.30 115.76L272.90 118.36M270.30 118.36L272.90 115.76M271.11 115.76L273.71 118.36M271.11 118.36L273.71 115.76M272.57 115.76L275.17 118.36M272.57 118.36L275.17 115.76M274.17 115.76L276.77 118.36M274.17 118.36L276.77 115.76M275.29 115.76L277.89 118.36M275.29 118.36L277.89 115.76M276.42 115.76L279.02 118.36M276.42 118.36L279.02 115.76M277.20 115.76L279.80 118.36M277.20 118.36L279.80 115.76M277.99 115.76L280.59 118.36M277.99 118.36L280.59 115.76M279.00 115.76L281.60 118.36M279.00 118.36L281.60 115.76M279.94 115.76L282.54 118.36M279.94 118.36L282.54 115.76M281.39 115.76L283.99 118.36M281.39 118.36L283.99 115.76M282.23 115.76L284.83 118.36M282.23 118.36L284.83 115.76M282.95 115.76L285.55 118.36M282.95 118.36L285.55 115.76M284.51 115.76L287.11 118.36M284.51 118.36L287.11 115.76M285.68 115.76L288.28 118.36M285.68 118.36L288.28 115.76M286.51 115.76L289.11 118.36M286.51 118.36L289.11 115.76M287.70 115.76L290.30 118.36M287.70 118.36L290.30 115.76M288.43 115.76L291.03 118.36M288.43 118.36L291.03 115.76M289.60 115.76L292.20 118.36M289.60 118.36L292.20 115.76M291.18 115.76L293.78 118.36M291.18 118.36L293.78 115.76M292.66 115.76L295.26 118.36M292.66 118.36L295.26 115.76M293.99 115.76L296.59 118.36M293.99 118.36L296.59 115.76M294.92 115.76L297.52 118.36M294.92 118.36L297.52 115.76M295.95 115.76L298.55 118.36M295.95 118.36L298.55 115.76M296.80 115.76L299.40 118.36M296.80 118.36L299.40 115.76M298.20 115.76L300.80 118.36M298.20 118.36L300.80 115.76M299.38 115.76L301.98 118.36M299.38 118.36L301.98 115.76M300.78 115.76L303.38 118.36M300.78 118.36L303.38 115.76M301.77 115.76L304.37 118.36M301.77 118.36L304.37 115.76M302.68 115.76L305.28 118.36M302.68 118.36L305.28 115.76M304.11 115.76L306.71 118.36M304.11 118.36L306.71 115.76M305.69 115.76L308.29 118.36M305.69 118.36L308.29 115.76M307.16 115.76L309.76 118.36M307.16 118.36L309.76 115.76M308.58 115.76L311.18 118.36M308.58 118.36L311.18 115.76M310.02 115.76L312.62 118.36M310.02 118.36L312.62 115.76M311.39 115.76L313.99 118.36M311.39 118.36L313.99 115.76M312.29 115.76L314.89 118.36M312.29 118.36L314.89 115.76M313.46 115.76L316.06 118.36M313.46 118.36L316.06 115.76M314.48 115.76L317.08 118.36M314.48 118.36L317.08 115.76M315.20 115.76L317.80 118.36M315.20 118.36L317.80 115.76M315.93 115.76L318.53 118.36M315.93 118.36L318.53 115.76M316.88 115.76L319.48 118.36M316.88 118.36L319.48 115.76M317.81 115.76L320.41 118.36M317.81 118.36L320.41 115.76M319.14 115.76L321.74 118.36M319.14 118.36L321.74 115.76M320.70 115.76L323.30 118.36M320.70 118.36L323.30 115.76M321.80 115.76L324.40 118.36M321.80 118.36L324.40 115.76M323.34 115.76L325.94 118.36M323.34 118.36L325.94 115.76M324.93 115.76L327.53 118.36M324.93 118.36L327.53 115.76M326.49 115.76L329.09 118.36M326.49 118.36L329.09 115.76M327.52 115.76L330.12 118.36M327.52 118.36L330.12 115.76M328.42 115.76L331.02 118.36M328.42 118.36L331.02 115.76M329.32 115.76L331.92 118.36M329.32 118.36L331.92 115.76M330.20 115.76L332.80 118.36M330.20 118.36L332.80 115.76M331.08 115.76L333.68 118.36M331.08 118.36L333.68 115.76M332.35 115.76L334.95 118.36M332.35 118.36L334.95 115.76M333.86 115.76L336.46 118.36M333.86 118.36L336.46 115.76M335.31 115.76L337.91 118.36M335.31 118.36L337.91 115.76M336.44 115.76L339.04 118.36M336.44 118.36L339.04 115.76M337.73 115.76L340.33 118.36M337.73 118.36L340.33 115.76M339.15 115.76L341.75 118.36M339.15 118.36L341.75 115.76M339.93 115.76L342.53 118.36M339.93 118.36L342.53 115.76M341.22 115.76L343.82 118.36M341.22 118.36L343.82 115.76M342.74 115.76L345.34 118.36M342.74 118.36L345.34 115.76M344.14 115.76L346.74 118.36M344.14 118.36L346.74 115.76M345.52 115.76L348.12 118.36M345.52 118.36L348.12 115.76M346.65 115.76L349.25 118.36M346.65 118.36L349.25 115.76M347.51 115.76L350.11 118.36M347.51 118.36L350.11 115.76M348.92 115.76L351.52 118.36M348.92 118.36L351.52 115.76M349.92 115.76L352.52 118.36M349.92 118.36L352.52 115.76M350.10 115.76L352.70 118.36M350.10 118.36L352.70 115.76M225.60 115.76L228.20 118.36M225.60 118.36L228.20 115.76M228.30 115.76L230.90 118.36M228.30 118.36L230.90 115.76M237.40 115.76L240.00 118.36M237.40 118.36L240.00 115.76M240.00 115.76L242.60 118.36M240.00 118.36L242.60 115.76M239.30 115.76L241.90 118.36M239.30 118.36L241.90 115.76M352.90 115.76L355.50 118.36M352.90 118.36L355.50 115.76M358.00 115.76L360.60 118.36M358.00 118.36L360.60 115.76M227.70 128.92L230.30 131.52M227.70 131.52L230.30 128.92M229.27 128.92L231.87 131.52M229.27 131.52L231.87 128.92M230.33 128.92L232.93 131.52M230.33 131.52L232.93 128.92M231.39 128.92L233.99 131.52M231.39 131.52L233.99 128.92M232.94 128.92L235.54 131.52M232.94 131.52L235.54 128.92M234.30 128.92L236.90 131.52M234.30 131.52L236.90 128.92M235.15 128.92L237.75 131.52M235.15 131.52L237.75 128.92M235.96 128.92L238.56 131.52M235.96 131.52L238.56 128.92M236.80 128.92L239.40 131.52M236.80 131.52L239.40 128.92M238.31 128.92L240.91 131.52M238.31 131.52L240.91 128.92M239.74 128.92L242.34 131.52M239.74 131.52L242.34 128.92M240.57 128.92L243.17 131.52M240.57 131.52L243.17 128.92M242.02 128.92L244.62 131.52M242.02 131.52L244.62 128.92M243.60 128.92L246.20 131.52M243.60 131.52L246.20 128.92M244.89 128.92L247.49 131.52M244.89 131.52L247.49 128.92M245.90 128.92L248.50 131.52M245.90 131.52L248.50 128.92M247.10 128.92L249.70 131.52M247.10 131.52L249.70 128.92M247.92 128.92L250.52 131.52M247.92 131.52L250.52 128.92M248.63 128.92L251.23 131.52M248.63 131.52L251.23 128.92M250.20 128.92L252.80 131.52M250.20 131.52L252.80 128.92M251.49 128.92L254.09 131.52M251.49 131.52L254.09 128.92M252.66 128.92L255.26 131.52M252.66 131.52L255.26 128.92M254.20 128.92L256.80 131.52M254.20 131.52L256.80 128.92M255.29 128.92L257.89 131.52M255.29 131.52L257.89 128.92M256.78 128.92L259.38 131.52M256.78 131.52L259.38 128.92M258.22 128.92L260.82 131.52M258.22 131.52L260.82 128.92M259.11 128.92L261.71 131.52M259.11 131.52L261.71 128.92M260.04 128.92L262.64 131.52M260.04 131.52L262.64 128.92M261.00 128.92L263.60 131.52M261.00 131.52L263.60 128.92M261.92 128.92L264.52 131.52M261.92 131.52L264.52 128.92M263.14 128.92L265.74 131.52M263.14 131.52L265.74 128.92M264.08 128.92L266.68 131.52M264.08 131.52L266.68 128.92M265.16 128.92L267.76 131.52M265.16 131.52L267.76 128.92M265.97 128.92L268.57 131.52M265.97 131.52L268.57 128.92M267.49 128.92L270.09 131.52M267.49 131.52L270.09 128.92M268.51 128.92L271.11 131.52M268.51 131.52L271.11 128.92M269.62 128.92L272.22 131.52M269.62 131.52L272.22 128.92M270.85 128.92L273.45 131.52M270.85 131.52L273.45 128.92M272.36 128.92L274.96 131.52M272.36 131.52L274.96 128.92M273.44 128.92L276.04 131.52M273.44 131.52L276.04 128.92M274.97 128.92L277.57 131.52M274.97 131.52L277.57 128.92M276.12 128.92L278.72 131.52M276.12 131.52L278.72 128.92M277.30 128.92L279.90 131.52M277.30 131.52L279.90 128.92M278.47 128.92L281.07 131.52M278.47 131.52L281.07 128.92M279.18 128.92L281.78 131.52M279.18 131.52L281.78 128.92M280.28 128.92L282.88 131.52M280.28 131.52L282.88 128.92M281.15 128.92L283.75 131.52M281.15 131.52L283.75 128.92M281.85 128.92L284.45 131.52M281.85 131.52L284.45 128.92M283.27 128.92L285.87 131.52M283.27 131.52L285.87 128.92M284.12 128.92L286.72 131.52M284.12 131.52L286.72 128.92M285.25 128.92L287.85 131.52M285.25 131.52L287.85 128.92M286.60 128.92L289.20 131.52M286.60 131.52L289.20 128.92M287.80 128.92L290.40 131.52M287.80 131.52L290.40 128.92M288.80 128.92L291.40 131.52M288.80 131.52L291.40 128.92M289.96 128.92L292.56 131.52M289.96 131.52L292.56 128.92M291.16 128.92L293.76 131.52M291.16 131.52L293.76 128.92M292.57 128.92L295.17 131.52M292.57 131.52L295.17 128.92M293.36 128.92L295.96 131.52M293.36 131.52L295.96 128.92M294.57 128.92L297.17 131.52M294.57 131.52L297.17 128.92M295.49 128.92L298.09 131.52M295.49 131.52L298.09 128.92M296.44 128.92L299.04 131.52M296.44 131.52L299.04 128.92M297.84 128.92L300.44 131.52M297.84 131.52L300.44 128.92M298.99 128.92L301.59 131.52M298.99 131.52L301.59 128.92M300.20 128.92L302.80 131.52M300.20 131.52L302.80 128.92M301.58 128.92L304.18 131.52M301.58 131.52L304.18 128.92M303.10 128.92L305.70 131.52M303.10 131.52L305.70 128.92M304.20 128.92L306.80 131.52M304.20 131.52L306.80 128.92M305.45 128.92L308.05 131.52M305.45 131.52L308.05 128.92M306.61 128.92L309.21 131.52M306.61 131.52L309.21 128.92M307.77 128.92L310.37 131.52M307.77 131.52L310.37 128.92M309.09 128.92L311.69 131.52M309.09 131.52L311.69 128.92M310.20 128.92L312.80 131.52M310.20 131.52L312.80 128.92M311.38 128.92L313.98 131.52M311.38 131.52L313.98 128.92M312.51 128.92L315.11 131.52M312.51 131.52L315.11 128.92M314.06 128.92L316.66 131.52M314.06 131.52L316.66 128.92M315.39 128.92L317.99 131.52M315.39 131.52L317.99 128.92M316.88 128.92L319.48 131.52M316.88 131.52L319.48 128.92M318.42 128.92L321.02 131.52M318.42 131.52L321.02 128.92M319.36 128.92L321.96 131.52M319.36 131.52L321.96 128.92M320.56 128.92L323.16 131.52M320.56 131.52L323.16 128.92M322.11 128.92L324.71 131.52M322.11 131.52L324.71 128.92M323.57 128.92L326.17 131.52M323.57 131.52L326.17 128.92M324.39 128.92L326.99 131.52M324.39 131.52L326.99 128.92M325.20 128.92L327.80 131.52M325.20 131.52L327.80 128.92M326.30 128.92L328.90 131.52M326.30 131.52L328.90 128.92M327.06 128.92L329.66 131.52M327.06 131.52L329.66 128.92M327.98 128.92L330.58 131.52M327.98 131.52L330.58 128.92M328.75 128.92L331.35 131.52M328.75 131.52L331.35 128.92M330.05 128.92L332.65 131.52M330.05 131.52L332.65 128.92M331.45 128.92L334.05 131.52M331.45 131.52L334.05 128.92M332.96 128.92L335.56 131.52M332.96 131.52L335.56 128.92M333.80 128.92L336.40 131.52M333.80 131.52L336.40 128.92M335.14 128.92L337.74 131.52M335.14 131.52L337.74 128.92M336.44 128.92L339.04 131.52M336.44 131.52L339.04 128.92M337.27 128.92L339.87 131.52M337.27 131.52L339.87 128.92M338.76 128.92L341.36 131.52M338.76 131.52L341.36 128.92M340.33 128.92L342.93 131.52M340.33 131.52L342.93 128.92M341.23 128.92L343.83 131.52M341.23 131.52L343.83 128.92M342.50 128.92L345.10 131.52M342.50 131.52L345.10 128.92M206.80 128.92L209.40 131.52M206.80 131.52L209.40 128.92M207.86 128.92L210.46 131.52M207.86 131.52L210.46 128.92M209.00 128.92L211.60 131.52M209.00 131.52L211.60 128.92M210.59 128.92L213.19 131.52M210.59 131.52L213.19 128.92M212.04 128.92L214.64 131.52M212.04 131.52L214.64 128.92M212.88 128.92L215.48 131.52M212.88 131.52L215.48 128.92M213.97 128.92L216.57 131.52M213.97 131.52L216.57 128.92M215.13 128.92L217.73 131.52M215.13 131.52L217.73 128.92M215.20 128.92L217.80 131.52M215.20 131.52L217.80 128.92M171.10 128.92L173.70 131.52M171.10 131.52L173.70 128.92M185.00 128.92L187.60 131.52M185.00 131.52L187.60 128.92M189.00 128.92L191.60 131.52M189.00 131.52L191.60 128.92M219.10 128.92L221.70 131.52M219.10 131.52L221.70 128.92M223.00 128.92L225.60 131.52M223.00 131.52L225.60 128.92M345.70 128.92L348.30 131.52M345.70 131.52L348.30 128.92M349.60 128.92L352.20 131.52M349.60 131.52L352.20 128.92M352.20 128.92L354.80 131.52M352.20 131.52L354.80 128.92M355.40 128.92L358.00 131.52M355.40 131.52L358.00 128.92M358.50 128.92L361.10 131.52M358.50 131.52L361.10 128.92M179.80 142.08L182.40 144.68M179.80 144.68L182.40 142.08M180.68 142.08L183.28 144.68M180.68 144.68L183.28 142.08M181.66 142.08L184.26 144.68M181.66 144.68L184.26 142.08M183.01 142.08L185.61 144.68M183.01 144.68L185.61 142.08M183.73 142.08L186.33 144.68M183.73 144.68L186.33 142.08M184.93 142.08L187.53 144.68M184.93 144.68L187.53 142.08M186.03 142.08L188.63 144.68M186.03 144.68L188.63 142.08M186.74 142.08L189.34 144.68M186.74 144.68L189.34 142.08M187.74 142.08L190.34 144.68M187.74 144.68L190.34 142.08M189.00 142.08L191.60 144.68M189.00 144.68L191.60 142.08M190.16 142.08L192.76 144.68M190.16 144.68L192.76 142.08M190.92 142.08L193.52 144.68M190.92 144.68L193.52 142.08M192.51 142.08L195.11 144.68M192.51 144.68L195.11 142.08M193.92 142.08L196.52 144.68M193.92 144.68L196.52 142.08M195.49 142.08L198.09 144.68M195.49 144.68L198.09 142.08M196.29 142.08L198.89 144.68M196.29 144.68L198.89 142.08M197.22 142.08L199.82 144.68M197.22 144.68L199.82 142.08M197.96 142.08L200.56 144.68M197.96 144.68L200.56 142.08M199.36 142.08L201.96 144.68M199.36 144.68L201.96 142.08M200.30 142.08L202.90 144.68M200.30 144.68L202.90 142.08M201.12 142.08L203.72 144.68M201.12 144.68L203.72 142.08M202.20 142.08L204.80 144.68M202.20 144.68L204.80 142.08M203.72 142.08L206.32 144.68M203.72 144.68L206.32 142.08M205.16 142.08L207.76 144.68M205.16 144.68L207.76 142.08M206.09 142.08L208.69 144.68M206.09 144.68L208.69 142.08M206.93 142.08L209.53 144.68M206.93 144.68L209.53 142.08M208.45 142.08L211.05 144.68M208.45 144.68L211.05 142.08M209.67 142.08L212.27 144.68M209.67 144.68L212.27 142.08M211.00 142.08L213.60 144.68M211.00 144.68L213.60 142.08M211.78 142.08L214.38 144.68M211.78 144.68L214.38 142.08M212.53 142.08L215.13 144.68M212.53 144.68L215.13 142.08M213.85 142.08L216.45 144.68M213.85 144.68L216.45 142.08M214.93 142.08L217.53 144.68M214.93 144.68L217.53 142.08M215.70 142.08L218.30 144.68M215.70 144.68L218.30 142.08M217.24 142.08L219.84 144.68M217.24 144.68L219.84 142.08M218.51 142.08L221.11 144.68M218.51 144.68L221.11 142.08M219.93 142.08L222.53 144.68M219.93 144.68L222.53 142.08M220.71 142.08L223.31 144.68M220.71 144.68L223.31 142.08M222.18 142.08L224.78 144.68M222.18 144.68L224.78 142.08M222.94 142.08L225.54 144.68M222.94 144.68L225.54 142.08M224.42 142.08L227.02 144.68M224.42 144.68L227.02 142.08M225.52 142.08L228.12 144.68M225.52 144.68L228.12 142.08M226.53 142.08L229.13 144.68M226.53 144.68L229.13 142.08M227.73 142.08L230.33 144.68M227.73 144.68L230.33 142.08M229.26 142.08L231.86 144.68M229.26 144.68L231.86 142.08M230.20 142.08L232.80 144.68M230.20 144.68L232.80 142.08M231.02 142.08L233.62 144.68M231.02 144.68L233.62 142.08M232.19 142.08L234.79 144.68M232.19 144.68L234.79 142.08M233.11 142.08L235.71 144.68M233.11 144.68L235.71 142.08M233.91 142.08L236.51 144.68M233.91 144.68L236.51 142.08M234.75 142.08L237.35 144.68M234.75 144.68L237.35 142.08M235.50 142.08L238.10 144.68M235.50 144.68L238.10 142.08M236.38 142.08L238.98 144.68M236.38 144.68L238.98 142.08M237.36 142.08L239.96 144.68M237.36 144.68L239.96 142.08M238.33 142.08L240.93 144.68M238.33 144.68L240.93 142.08M239.72 142.08L242.32 144.68M239.72 144.68L242.32 142.08M240.68 142.08L243.28 144.68M240.68 144.68L243.28 142.08M241.83 142.08L244.43 144.68M241.83 144.68L244.43 142.08M242.69 142.08L245.29 144.68M242.69 144.68L245.29 142.08M243.70 142.08L246.30 144.68M243.70 144.68L246.30 142.08M244.42 142.08L247.02 144.68M244.42 144.68L247.02 142.08M245.34 142.08L247.94 144.68M245.34 144.68L247.94 142.08M246.06 142.08L248.66 144.68M246.06 144.68L248.66 142.08M247.42 142.08L250.02 144.68M247.42 144.68L250.02 142.08M248.61 142.08L251.21 144.68M248.61 144.68L251.21 142.08M249.48 142.08L252.08 144.68M249.48 144.68L252.08 142.08M250.61 142.08L253.21 144.68M250.61 144.68L253.21 142.08M252.15 142.08L254.75 144.68M252.15 144.68L254.75 142.08M252.95 142.08L255.55 144.68M252.95 144.68L255.55 142.08M254.38 142.08L256.98 144.68M254.38 144.68L256.98 142.08M255.47 142.08L258.07 144.68M255.47 144.68L258.07 142.08M256.62 142.08L259.22 144.68M256.62 144.68L259.22 142.08M258.07 142.08L260.67 144.68M258.07 144.68L260.67 142.08M259.12 142.08L261.72 144.68M259.12 144.68L261.72 142.08M260.28 142.08L262.88 144.68M260.28 144.68L262.88 142.08M261.60 142.08L264.20 144.68M261.60 144.68L264.20 142.08M263.18 142.08L265.78 144.68M263.18 144.68L265.78 142.08M264.19 142.08L266.79 144.68M264.19 144.68L266.79 142.08M265.64 142.08L268.24 144.68M265.64 144.68L268.24 142.08M266.98 142.08L269.58 144.68M266.98 144.68L269.58 142.08M268.25 142.08L270.85 144.68M268.25 144.68L270.85 142.08M269.31 142.08L271.91 144.68M269.31 144.68L271.91 142.08M270.32 142.08L272.92 144.68M270.32 144.68L272.92 142.08M271.07 142.08L273.67 144.68M271.07 144.68L273.67 142.08M271.89 142.08L274.49 144.68M271.89 144.68L274.49 142.08M272.65 142.08L275.25 144.68M272.65 144.68L275.25 142.08M274.02 142.08L276.62 144.68M274.02 144.68L276.62 142.08M274.95 142.08L277.55 144.68M274.95 144.68L277.55 142.08M275.80 142.08L278.40 144.68M275.80 144.68L278.40 142.08M276.57 142.08L279.17 144.68M276.57 144.68L279.17 142.08M278.03 142.08L280.63 144.68M278.03 144.68L280.63 142.08M279.51 142.08L282.11 144.68M279.51 144.68L282.11 142.08M280.82 142.08L283.42 144.68M280.82 144.68L283.42 142.08M281.77 142.08L284.37 144.68M281.77 144.68L284.37 142.08M282.69 142.08L285.29 144.68M282.69 144.68L285.29 142.08M283.65 142.08L286.25 144.68M283.65 144.68L286.25 142.08M284.77 142.08L287.37 144.68M284.77 144.68L287.37 142.08M285.61 142.08L288.21 144.68M285.61 144.68L288.21 142.08M286.71 142.08L289.31 144.68M286.71 144.68L289.31 142.08M287.65 142.08L290.25 144.68M287.65 144.68L290.25 142.08M289.21 142.08L291.81 144.68M289.21 144.68L291.81 142.08M290.79 142.08L293.39 144.68M290.79 144.68L293.39 142.08M291.98 142.08L294.58 144.68M291.98 144.68L294.58 142.08M292.90 142.08L295.50 144.68M292.90 144.68L295.50 142.08M294.47 142.08L297.07 144.68M294.47 144.68L297.07 142.08M295.45 142.08L298.05 144.68M295.45 144.68L298.05 142.08M296.47 142.08L299.07 144.68M296.47 144.68L299.07 142.08M297.17 142.08L299.77 144.68M297.17 144.68L299.77 142.08M298.21 142.08L300.81 144.68M298.21 144.68L300.81 142.08M299.34 142.08L301.94 144.68M299.34 144.68L301.94 142.08M300.49 142.08L303.09 144.68M300.49 144.68L303.09 142.08M301.37 142.08L303.97 144.68M301.37 144.68L303.97 142.08M302.53 142.08L305.13 144.68M302.53 144.68L305.13 142.08M303.23 142.08L305.83 144.68M303.23 144.68L305.83 142.08M304.17 142.08L306.77 144.68M304.17 144.68L306.77 142.08M304.95 142.08L307.55 144.68M304.95 144.68L307.55 142.08M306.01 142.08L308.61 144.68M306.01 144.68L308.61 142.08M306.75 142.08L309.35 144.68M306.75 144.68L309.35 142.08M307.47 142.08L310.07 144.68M307.47 144.68L310.07 142.08M308.44 142.08L311.04 144.68M308.44 144.68L311.04 142.08M309.35 142.08L311.95 144.68M309.35 144.68L311.95 142.08M310.58 142.08L313.18 144.68M310.58 144.68L313.18 142.08M311.76 142.08L314.36 144.68M311.76 144.68L314.36 142.08M313.13 142.08L315.73 144.68M313.13 144.68L315.73 142.08M314.42 142.08L317.02 144.68M314.42 144.68L317.02 142.08M315.77 142.08L318.37 144.68M315.77 144.68L318.37 142.08M317.26 142.08L319.86 144.68M317.26 144.68L319.86 142.08M318.31 142.08L320.91 144.68M318.31 144.68L320.91 142.08M319.30 142.08L321.90 144.68M319.30 144.68L321.90 142.08M320.89 142.08L323.49 144.68M320.89 144.68L323.49 142.08M321.72 142.08L324.32 144.68M321.72 144.68L324.32 142.08M323.07 142.08L325.67 144.68M323.07 144.68L325.67 142.08M324.35 142.08L326.95 144.68M324.35 144.68L326.95 142.08M325.09 142.08L327.69 144.68M325.09 144.68L327.69 142.08M326.54 142.08L329.14 144.68M326.54 144.68L329.14 142.08M328.05 142.08L330.65 144.68M328.05 144.68L330.65 142.08M328.20 142.08L330.80 144.68M328.20 144.68L330.80 142.08M136.60 142.08L139.20 144.68M136.60 144.68L139.20 142.08M163.50 142.08L166.10 144.68M163.50 144.68L166.10 142.08M171.90 142.08L174.50 144.68M171.90 144.68L174.50 142.08M175.90 142.08L178.50 144.68M175.90 144.68L178.50 142.08M331.70 142.08L334.30 144.68M331.70 144.68L334.30 142.08M335.50 142.08L338.10 144.68M335.50 144.68L338.10 142.08M347.70 142.08L350.30 144.68M347.70 144.68L350.30 142.08M351.30 142.08L353.90 144.68M351.30 144.68L353.90 142.08M291.61 168.40L294.21 171.00M291.61 171.00L294.21 168.40M294.52 168.40L297.12 171.00M294.52 171.00L297.12 168.40M294.53 167.08L297.13 169.68M294.53 169.68L297.13 167.08M297.78 167.08L300.38 169.68M297.78 169.68L300.38 167.08M295.18 165.77L297.78 168.37M295.18 168.37L297.78 165.77M297.56 164.45L300.16 167.05M297.56 167.05L300.16 164.45M300.52 164.45L303.12 167.05M300.52 167.05L303.12 164.45M298.35 163.14L300.95 165.74M298.35 165.74L300.95 163.14M301.22 161.82L303.82 164.42M301.22 164.42L303.82 161.82M301.59 160.50L304.19 163.10M301.59 163.10L304.19 160.50M304.05 159.19L306.65 161.79M304.05 161.79L306.65 159.19M306.32 157.87L308.92 160.47M306.32 160.47L308.92 157.87M308.79 156.56L311.39 159.16M308.79 159.16L311.39 156.56M311.99 156.56L314.59 159.16M311.99 159.16L314.59 156.56M309.73 155.24L312.33 157.84M309.73 157.84L312.33 155.24M310.70 168.40L313.30 171.00M310.70 171.00L313.30 168.40M314.70 165.70L317.30 168.30M314.70 168.30L317.30 165.70M318.70 163.90L321.30 166.50M318.70 166.50L321.30 163.90M322.50 161.30L325.10 163.90M322.50 163.90L325.10 161.30M325.20 159.20L327.80 161.80M325.20 161.80L327.80 159.20M329.10 156.60L331.70 159.20M329.10 159.20L331.70 156.60M331.70 155.30L334.30 157.90M331.70 157.90L334.30 155.30M344.90 160.50L347.50 163.10M344.90 163.10L347.50 160.50M307.70 159.20L310.30 161.80M307.70 161.80L310.30 159.20M303.70 164.90L306.30 167.50M303.70 167.50L306.30 164.90M298.70 168.20L301.30 170.80M298.70 170.80L301.30 168.20M306.20 162.10L308.80 164.70M306.20 164.70L308.80 162.10M310.70 156.20L313.30 158.80M310.70 158.80L313.30 156.20M102.90 165.50L105.50 168.10M102.90 168.10L105.50 165.50M114.00 157.70L116.60 160.30M114.00 160.30L116.60 157.70M113.40 165.50L116.00 168.10M113.40 168.10L116.00 165.50M117.00 160.30L119.60 162.90M117.00 162.90L119.60 160.30M116.00 168.40L118.60 171.00M116.00 171.00L118.60 168.40M119.90 154.70L122.50 157.30M119.90 157.30L122.50 154.70M119.20 162.70L121.80 165.30M119.20 165.30L121.80 162.70M121.90 165.10L124.50 167.70M121.90 167.70L124.50 165.10M120.60 168.40L123.20 171.00M120.60 171.00L123.20 168.40M128.40 154.70L131.00 157.30M128.40 157.30L131.00 154.70M132.30 154.70L134.90 157.30M132.30 157.30L134.90 154.70M126.50 157.90L129.10 160.50M126.50 160.50L129.10 157.90M124.50 160.60L127.10 163.20M124.50 163.20L127.10 160.60M140.20 154.70L142.80 157.30M140.20 157.30L142.80 154.70M130.04 157.87L132.64 160.47M130.04 160.47L132.64 157.87M124.09 157.87L126.69 160.47M124.09 160.47L126.69 157.87M130.23 156.56L132.83 159.16M130.23 159.16L132.83 156.56M131.05 168.40L133.65 171.00M131.05 171.00L133.65 168.40M130.96 156.56L133.56 159.16M130.96 159.16L133.56 156.56M130.68 155.24L133.28 157.84M130.68 157.84L133.28 155.24M132.26 155.24L134.86 157.84M132.26 157.84L134.86 155.24M133.77 168.40L136.37 171.00M133.77 171.00L136.37 168.40M132.08 155.24L134.68 157.84M132.08 157.84L134.68 155.24M134.95 167.08L137.55 169.68M134.95 169.68L137.55 167.08M135.09 159.19L137.69 161.79M135.09 161.79L137.69 159.19M136.73 155.24L139.33 157.84M136.73 157.84L139.33 155.24M131.87 157.87L134.47 160.47M131.87 160.47L134.47 157.87M137.83 159.19L140.43 161.79M137.83 161.79L140.43 159.19M134.07 159.19L136.67 161.79M134.07 161.79L136.67 159.19M138.88 157.87L141.48 160.47M138.88 160.47L141.48 157.87M139.78 167.08L142.38 169.68M139.78 169.68L142.38 167.08M137.63 167.08L140.23 169.68M137.63 169.68L140.23 167.08M138.41 159.19L141.01 161.79M138.41 161.79L141.01 159.19M133.97 167.08L136.57 169.68M133.97 169.68L136.57 167.08M139.32 164.45L141.92 167.05M139.32 167.05L141.92 164.45M138.26 164.45L140.86 167.05M138.26 167.05L140.86 164.45M133.78 155.24L136.38 157.84M133.78 157.84L136.38 155.24M140.48 159.19L143.08 161.79M140.48 161.79L143.08 159.19M139.31 167.08L141.91 169.68M139.31 169.68L141.91 167.08M144.49 155.24L147.09 157.84M144.49 157.84L147.09 155.24M142.57 168.40L145.17 171.00M142.57 171.00L145.17 168.40M145.87 155.24L148.47 157.84M145.87 157.84L148.47 155.24M141.68 156.56L144.28 159.16M141.68 159.16L144.28 156.56M141.17 163.14L143.77 165.74M141.17 165.74L143.77 163.14M146.22 163.14L148.82 165.74M146.22 165.74L148.82 163.14M145.91 165.77L148.51 168.37M145.91 168.37L148.51 165.77M139.82 168.40L142.42 171.00M139.82 171.00L142.42 168.40M144.56 155.24L147.16 157.84M144.56 157.84L147.16 155.24M140.70 164.45L143.30 167.05M140.70 167.05L143.30 164.45M146.46 163.14L149.06 165.74M146.46 165.74L149.06 163.14M146.79 163.14L149.39 165.74M146.79 165.74L149.39 163.14M144.35 159.19L146.95 161.79M144.35 161.79L146.95 159.19M147.37 157.87L149.97 160.47M147.37 160.47L149.97 157.87M141.69 167.08L144.29 169.68M141.69 169.68L144.29 167.08M149.06 168.40L151.66 171.00M149.06 171.00L151.66 168.40M142.60 167.08L145.20 169.68M142.60 169.68L145.20 167.08M147.90 159.19L150.50 161.79M147.90 161.79L150.50 159.19M149.64 160.50L152.24 163.10M149.64 163.10L152.24 160.50M141.80 164.45L144.40 167.05M141.80 167.05L144.40 164.45M140.45 167.08L143.05 169.68M140.45 169.68L143.05 167.08M141.12 157.87L143.72 160.47M141.12 160.47L143.72 157.87M142.32 161.82L144.92 164.42M142.32 164.42L144.92 161.82M141.03 155.24L143.63 157.84M141.03 157.84L143.63 155.24M144.79 167.08L147.39 169.68M144.79 169.68L147.39 167.08M146.73 164.45L149.33 167.05M146.73 167.05L149.33 164.45M144.68 159.19L147.28 161.79M144.68 161.79L147.28 159.19M143.64 165.77L146.24 168.37M143.64 168.37L146.24 165.77M139.74 159.19L142.34 161.79M139.74 161.79L142.34 159.19M146.52 160.50L149.12 163.10M146.52 163.10L149.12 160.50M142.72 165.77L145.32 168.37M142.72 168.37L145.32 165.77M143.86 160.50L146.46 163.10M143.86 163.10L146.46 160.50M142.86 161.82L145.46 164.42M142.86 164.42L145.46 161.82M139.72 161.82L142.32 164.42M139.72 164.42L142.32 161.82M148.09 167.08L150.69 169.68M148.09 169.68L150.69 167.08M149.10 164.45L151.70 167.05M149.10 167.05L151.70 164.45M146.83 163.14L149.43 165.74M146.83 165.74L149.43 163.14M142.23 167.08L144.83 169.68M142.23 169.68L144.83 167.08M143.63 156.56L146.23 159.16M143.63 159.16L146.23 156.56M140.46 160.50L143.06 163.10M140.46 163.10L143.06 160.50M147.26 168.40L149.86 171.00M147.26 171.00L149.86 168.40M142.51 168.40L145.11 171.00M142.51 171.00L145.11 168.40M148.05 163.14L150.65 165.74M148.05 165.74L150.65 163.14M146.05 165.77L148.65 168.37M146.05 168.37L148.65 165.77M142.19 163.14L144.79 165.74M142.19 165.74L144.79 163.14M144.06 161.82L146.66 164.42M144.06 164.42L146.66 161.82M141.60 161.82L144.20 164.42M141.60 164.42L144.20 161.82M147.55 160.50L150.15 163.10M147.55 163.10L150.15 160.50M148.54 155.24L151.14 157.84M148.54 157.84L151.14 155.24M143.70 157.87L146.30 160.47M143.70 160.47L146.30 157.87" stroke="#a01e1e" stroke-width="1.75" fill="none" stroke-linecap="butt"/>
<path d="M61.75 409.10L61.75 409.10L66.40 409.10L66.40 409.10L75.71 409.10L75.71 409.10L85.02 409.10L85.02 408.57L94.32 408.57L94.32 409.10L103.63 409.10L103.63 409.10L112.93 409.10L112.93 409.10L122.24 409.10L122.24 408.57L131.55 408.57L131.55 408.04L140.85 408.04L140.85 408.04L150.16 408.04L150.16 406.46L159.47 406.46L159.47 404.09L168.77 404.09L168.77 405.14L178.08 405.14L178.08 403.82L187.38 403.82L187.38 404.09L196.69 404.09L196.69 402.56L206.00 402.56L206.00 404.88L215.30 404.88L215.30 402.87L224.61 402.87L224.61 401.82L233.92 401.82L233.92 401.03L243.22 401.03L243.22 399.81L252.53 399.81L252.53 398.76L261.83 398.76L261.83 401.19L271.14 401.19L271.14 396.54L280.45 396.54L280.45 381.34L289.75 381.34L289.75 357.23L299.06 357.23L299.06 332.43L308.37 332.43L308.37 263.46L317.67 263.46L317.67 274.55L326.98 274.55L326.98 286.89L336.28 286.89L336.28 297.39L345.59 297.39L345.59 335.49L354.90 335.49L354.90 370.84L364.20 370.84L364.20 403.72L373.51 403.72L373.51 401.45L382.82 401.45L382.82 405.93L392.12 405.93L392.12 408.89L401.43 408.89L401.43 401.19L410.73 401.19L410.73 409.10L420.04 409.10L420.04 409.10L429.35 409.10L429.35 409.10L434.00 409.10" stroke="#a01e1e" stroke-width="1.5" fill="none" stroke-linejoin="miter"/>
<text x="49.90" y="43.05" text-anchor="middle" font-family="Liberation Serif, serif" font-size="14.2" fill="#000" stroke="#000" stroke-width="0.55" textLength="6.70" lengthAdjust="spacingAndGlyphs">1</text>
<text x="43.35" y="69.37" text-anchor="middle" font-family="Liberation Serif, serif" font-size="14.2" fill="#000" stroke="#000" stroke-width="0.55" textLength="21.60" lengthAdjust="spacingAndGlyphs">0.8</text>
<text x="43.35" y="95.69" text-anchor="middle" font-family="Liberation Serif, serif" font-size="14.2" fill="#000" stroke="#000" stroke-width="0.55" textLength="21.60" lengthAdjust="spacingAndGlyphs">0.6</text>
<text x="43.35" y="122.01" text-anchor="middle" font-family="Liberation Serif, serif" font-size="14.2" fill="#000" stroke="#000" stroke-width="0.55" textLength="21.60" lengthAdjust="spacingAndGlyphs">0.4</text>
<text x="43.35" y="148.33" text-anchor="middle" font-family="Liberation Serif, serif" font-size="14.2" fill="#000" stroke="#000" stroke-width="0.55" textLength="21.60" lengthAdjust="spacingAndGlyphs">0.2</text>
<text x="49.60" y="174.55" text-anchor="middle" font-family="Liberation Serif, serif" font-size="14.2" fill="#000" stroke="#000" stroke-width="0.55" textLength="7.70" lengthAdjust="spacingAndGlyphs">0</text>
<text x="49.60" y="413.95" text-anchor="middle" font-family="Liberation Serif, serif" font-size="14.2" fill="#000" stroke="#000" stroke-width="0.55" textLength="7.70" lengthAdjust="spacingAndGlyphs">0</text>
<text x="40.75" y="361.48" text-anchor="middle" font-family="Liberation Serif, serif" font-size="14.2" fill="#000" stroke="#000" stroke-width="0.55" textLength="26.00" lengthAdjust="spacingAndGlyphs">100</text>
<text x="40.75" y="308.72" text-anchor="middle" font-family="Liberation Serif, serif" font-size="14.2" fill="#000" stroke="#000" stroke-width="0.55" textLength="26.00" lengthAdjust="spacingAndGlyphs">200</text>
<text x="40.75" y="255.95" text-anchor="middle" font-family="Liberation Serif, serif" font-size="14.2" fill="#000" stroke="#000" stroke-width="0.55" textLength="26.00" lengthAdjust="spacingAndGlyphs">300</text>
<text x="56.10" y="200.55" text-anchor="middle" font-family="Liberation Serif, serif" font-size="14.2" fill="#000" stroke="#000" stroke-width="0.55" textLength="14.40" lengthAdjust="spacingAndGlyphs">10</text>
<text x="70.05" y="197.05" text-anchor="middle" font-family="Liberation Serif, serif" font-size="10.5" fill="#000" stroke="#000" stroke-width="0.6" textLength="10.30" lengthAdjust="spacingAndGlyphs">−5</text>
<text x="118.14" y="200.55" text-anchor="middle" font-family="Liberation Serif, serif" font-size="14.2" fill="#000" stroke="#000" stroke-width="0.55" textLength="14.40" lengthAdjust="spacingAndGlyphs">10</text>
<text x="132.09" y="197.05" text-anchor="middle" font-family="Liberation Serif, serif" font-size="10.5" fill="#000" stroke="#000" stroke-width="0.6" textLength="10.30" lengthAdjust="spacingAndGlyphs">−4</text>
<text x="180.18" y="200.55" text-anchor="middle" font-family="Liberation Serif, serif" font-size="14.2" fill="#000" stroke="#000" stroke-width="0.55" textLength="14.40" lengthAdjust="spacingAndGlyphs">10</text>
<text x="194.13" y="197.05" text-anchor="middle" font-family="Liberation Serif, serif" font-size="10.5" fill="#000" stroke="#000" stroke-width="0.6" textLength="10.30" lengthAdjust="spacingAndGlyphs">−3</text>
<text x="247.48" y="200.55" text-anchor="middle" font-family="Liberation Serif, serif" font-size="14.2" fill="#000" stroke="#000" stroke-width="0.55" textLength="27.60" lengthAdjust="spacingAndGlyphs">0.01</text>
<text x="309.52" y="200.55" text-anchor="middle" font-family="Liberation Serif, serif" font-size="14.2" fill="#000" stroke="#000" stroke-width="0.55" textLength="19.70" lengthAdjust="spacingAndGlyphs">0.1</text>
<text x="371.56" y="200.55" text-anchor="middle" font-family="Liberation Serif, serif" font-size="14.2" fill="#000" stroke="#000" stroke-width="0.55" textLength="6.30" lengthAdjust="spacingAndGlyphs">1</text>
<text x="435.00" y="200.55" text-anchor="middle" font-family="Liberation Serif, serif" font-size="14.2" fill="#000" stroke="#000" stroke-width="0.55" textLength="14.90" lengthAdjust="spacingAndGlyphs">10</text>
<text x="56.10" y="426.85" text-anchor="middle" font-family="Liberation Serif, serif" font-size="14.2" fill="#000" stroke="#000" stroke-width="0.55" textLength="14.40" lengthAdjust="spacingAndGlyphs">10</text>
<text x="70.05" y="423.35" text-anchor="middle" font-family="Liberation Serif, serif" font-size="10.5" fill="#000" stroke="#000" stroke-width="0.6" textLength="10.30" lengthAdjust="spacingAndGlyphs">−4</text>
<text x="149.16" y="426.85" text-anchor="middle" font-family="Liberation Serif, serif" font-size="14.2" fill="#000" stroke="#000" stroke-width="0.55" textLength="14.40" lengthAdjust="spacingAndGlyphs">10</text>
<text x="163.11" y="423.35" text-anchor="middle" font-family="Liberation Serif, serif" font-size="10.5" fill="#000" stroke="#000" stroke-width="0.6" textLength="10.30" lengthAdjust="spacingAndGlyphs">−3</text>
<text x="247.48" y="426.85" text-anchor="middle" font-family="Liberation Serif, serif" font-size="14.2" fill="#000" stroke="#000" stroke-width="0.55" textLength="27.60" lengthAdjust="spacingAndGlyphs">0.01</text>
<text x="340.54" y="426.85" text-anchor="middle" font-family="Liberation Serif, serif" font-size="14.2" fill="#000" stroke="#000" stroke-width="0.55" textLength="19.70" lengthAdjust="spacingAndGlyphs">0.1</text>
<text x="433.60" y="426.85" text-anchor="middle" font-family="Liberation Serif, serif" font-size="14.2" fill="#000" stroke="#000" stroke-width="0.55" textLength="6.30" lengthAdjust="spacingAndGlyphs">1</text>
<text x="190.20" y="219.30" text-anchor="middle" font-family="Liberation Serif, serif" font-size="15" font-weight="bold" font-style="normal" fill="#0000ff" stroke="#0000ff" stroke-width="0.3" textLength="7.20" lengthAdjust="spacingAndGlyphs">x</text>
<path d="M206.3 207.95H203.0V222.15H206.3" fill="none" stroke="#0000ff" stroke-width="1.3"/><line x1="203.0" y1="207.30" x2="203.0" y2="222.80" stroke="#0000ff" stroke-width="1.9"/>
<path d="M304.7 207.95H308.0V222.15H304.7" fill="none" stroke="#0000ff" stroke-width="1.3"/><line x1="308.0" y1="207.30" x2="308.0" y2="222.80" stroke="#0000ff" stroke-width="1.9"/>
<text x="212.40" y="219.30" text-anchor="middle" font-family="Liberation Serif, serif" font-size="14.5" font-weight="bold" font-style="normal" fill="#0000ff" stroke="#0000ff" stroke-width="0.3" textLength="9.60" lengthAdjust="spacingAndGlyphs">M</text>
<circle cx="221.45" cy="220.35" r="2.7" fill="none" stroke="#0000ff" stroke-width="1.4"/><circle cx="221.45" cy="220.35" r="0.8" fill="#0000ff"/>
<text x="239.85" y="219.30" text-anchor="middle" font-family="Liberation Serif, serif" font-size="15" font-weight="bold" font-style="normal" fill="#0000ff" stroke="#0000ff" stroke-width="0.3" textLength="15.30" lengthAdjust="spacingAndGlyphs">yr</text>
<text x="253.35" y="216.30" text-anchor="middle" font-family="Liberation Serif, serif" font-size="10" font-weight="bold" font-style="normal" fill="#0000ff" stroke="#0000ff" stroke-width="0.5" textLength="10.10" lengthAdjust="spacingAndGlyphs">−1</text>
<text x="279.25" y="219.30" text-anchor="middle" font-family="Liberation Serif, serif" font-size="15" font-weight="bold" font-style="normal" fill="#0000ff" stroke="#0000ff" stroke-width="0.3" textLength="24.70" lengthAdjust="spacingAndGlyphs">kpc</text>
<text x="298.05" y="216.30" text-anchor="middle" font-family="Liberation Serif, serif" font-size="10" font-weight="bold" font-style="normal" fill="#0000ff" stroke="#0000ff" stroke-width="0.5" textLength="10.90" lengthAdjust="spacingAndGlyphs">−2</text>
<text x="190.20" y="445.80" text-anchor="middle" font-family="Liberation Serif, serif" font-size="15" font-weight="bold" font-style="normal" fill="#0000ff" stroke="#0000ff" stroke-width="0.3" textLength="7.20" lengthAdjust="spacingAndGlyphs">x</text>
<path d="M206.3 434.45H203.0V448.65H206.3" fill="none" stroke="#0000ff" stroke-width="1.3"/><line x1="203.0" y1="433.80" x2="203.0" y2="449.30" stroke="#0000ff" stroke-width="1.9"/>
<path d="M304.7 434.45H308.0V448.65H304.7" fill="none" stroke="#0000ff" stroke-width="1.3"/><line x1="308.0" y1="433.80" x2="308.0" y2="449.30" stroke="#0000ff" stroke-width="1.9"/>
<text x="212.40" y="445.80" text-anchor="middle" font-family="Liberation Serif, serif" font-size="14.5" font-weight="bold" font-style="normal" fill="#0000ff" stroke="#0000ff" stroke-width="0.3" textLength="9.60" lengthAdjust="spacingAndGlyphs">M</text>
<circle cx="221.45" cy="446.85" r="2.7" fill="none" stroke="#0000ff" stroke-width="1.4"/><circle cx="221.45" cy="446.85" r="0.8" fill="#0000ff"/>
<text x="239.85" y="445.80" text-anchor="middle" font-family="Liberation Serif, serif" font-size="15" font-weight="bold" font-style="normal" fill="#0000ff" stroke="#0000ff" stroke-width="0.3" textLength="15.30" lengthAdjust="spacingAndGlyphs">yr</text>
<text x="253.35" y="442.80" text-anchor="middle" font-family="Liberation Serif, serif" font-size="10" font-weight="bold" font-style="normal" fill="#0000ff" stroke="#0000ff" stroke-width="0.5" textLength="10.10" lengthAdjust="spacingAndGlyphs">−1</text>
<text x="279.25" y="445.80" text-anchor="middle" font-family="Liberation Serif, serif" font-size="15" font-weight="bold" font-style="normal" fill="#0000ff" stroke="#0000ff" stroke-width="0.3" textLength="24.70" lengthAdjust="spacingAndGlyphs">kpc</text>
<text x="298.05" y="442.80" text-anchor="middle" font-family="Liberation Serif, serif" font-size="10" font-weight="bold" font-style="normal" fill="#0000ff" stroke="#0000ff" stroke-width="0.5" textLength="10.90" lengthAdjust="spacingAndGlyphs">−2</text>
<text transform="translate(21.9,105.0) rotate(-90)" text-anchor="middle" font-family="Liberation Serif, serif" font-size="16" font-weight="bold" font-style="italic" fill="#0000ff" stroke="#0000ff" stroke-width="0.25" textLength="51" lengthAdjust="spacingAndGlyphs">E(B−V)</text>
<text transform="translate(21.5,394.0) rotate(-90)" font-family="Liberation Serif, serif" font-size="16" font-weight="bold" fill="#0000ff" stroke="#0000ff" stroke-width="0.3" textLength="56.3" lengthAdjust="spacingAndGlyphs">Number</text>
<text transform="translate(21.5,329.3) rotate(-90)" font-family="Liberation Serif, serif" font-size="16" font-weight="bold" fill="#0000ff" stroke="#0000ff" stroke-width="0.3" textLength="12.2" lengthAdjust="spacingAndGlyphs">of</text>
<text transform="translate(21.5,309.0) rotate(-90)" font-family="Liberation Serif, serif" font-size="16" font-weight="bold" fill="#0000ff" stroke="#0000ff" stroke-width="0.3" textLength="44.2" lengthAdjust="spacingAndGlyphs">Points</text>
</svg>
</body></html>
